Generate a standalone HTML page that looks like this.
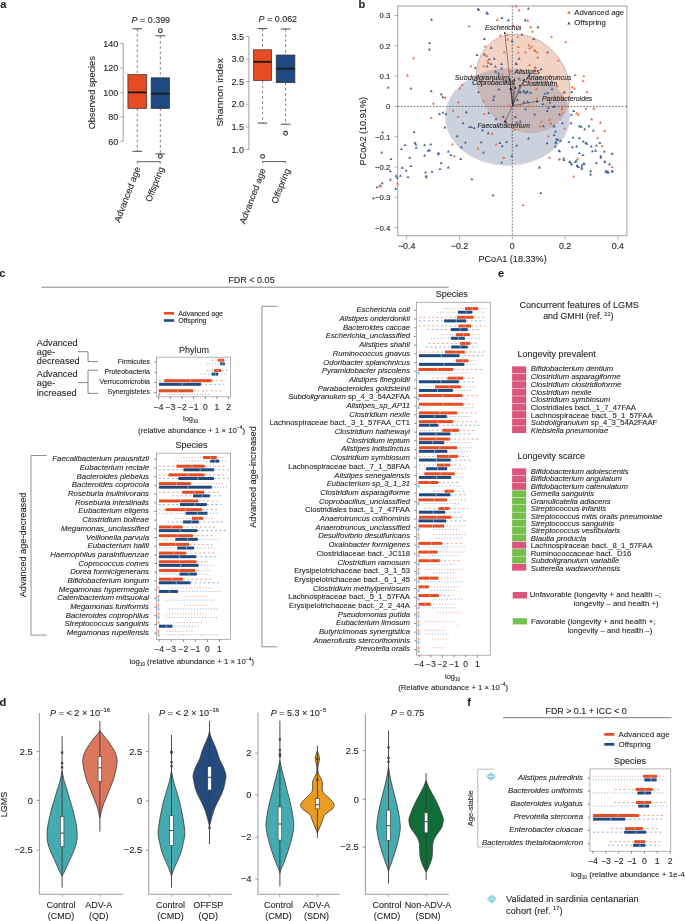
<!DOCTYPE html>
<html><head><meta charset="utf-8"><style>
html,body{margin:0;padding:0;background:#fff;width:685px;height:921px;overflow:hidden}
svg{display:block;will-change:transform}
text{font-family:"Liberation Sans",sans-serif;fill:#231f20;stroke:rgba(35,31,32,0.55);stroke-width:0.18px}
</style></head><body>
<svg width="685" height="921" viewBox="0 0 685 921">
<text x="0.3" y="8.3" style="font-size:11px;font-weight:bold">a</text>
<text x="358.6" y="7.7" style="font-size:11px;font-weight:bold">b</text>
<text x="-0.8" y="277.1" style="font-size:11px;font-weight:bold">c</text>
<text x="498" y="277.1" style="font-size:11px;font-weight:bold">e</text>
<text x="-0.4" y="706" style="font-size:11px;font-weight:bold">d</text>
<text x="467.3" y="706" style="font-size:11px;font-weight:bold">f</text>
<line x1="123.2" y1="43.5" x2="123.2" y2="141.3" stroke="#8a8a8a" stroke-width="0.8"/>
<line x1="120.4" y1="141.3" x2="123.2" y2="141.3" stroke="#8a8a8a" stroke-width="0.8"/>
<text x="118.2" y="144.5" text-anchor="end" style="font-size:9px">60</text>
<line x1="120.4" y1="116.85" x2="123.2" y2="116.85" stroke="#8a8a8a" stroke-width="0.8"/>
<text x="118.2" y="120.05" text-anchor="end" style="font-size:9px">80</text>
<line x1="120.4" y1="92.4" x2="123.2" y2="92.4" stroke="#8a8a8a" stroke-width="0.8"/>
<text x="118.2" y="95.6" text-anchor="end" style="font-size:9px">100</text>
<line x1="120.4" y1="67.95" x2="123.2" y2="67.95" stroke="#8a8a8a" stroke-width="0.8"/>
<text x="118.2" y="71.15" text-anchor="end" style="font-size:9px">120</text>
<line x1="120.4" y1="43.5" x2="123.2" y2="43.5" stroke="#8a8a8a" stroke-width="0.8"/>
<text x="118.2" y="46.7" text-anchor="end" style="font-size:9px">140</text>
<text x="95.5" y="92.8" text-anchor="middle" transform="rotate(-90 95.5 92.8)" textLength="73" lengthAdjust="spacingAndGlyphs" style="font-size:9.6px">Observed species</text>
<text x="131.6" y="23.4" textLength="38.5" lengthAdjust="spacingAndGlyphs" style="font-size:9px"><tspan style="font-style:italic">P</tspan> = 0.399</text>
<line x1="137.3" y1="28.8" x2="137.3" y2="74.5" stroke="#8a8a8a" stroke-width="1.1" stroke-dasharray="2.6,2.6"/>
<line x1="137.3" y1="108.5" x2="137.3" y2="151.3" stroke="#8a8a8a" stroke-width="1.1" stroke-dasharray="2.6,2.6"/>
<line x1="132.5" y1="28.8" x2="142.1" y2="28.8" stroke="#333" stroke-width="0.9"/>
<line x1="132.5" y1="151.3" x2="142.1" y2="151.3" stroke="#333" stroke-width="0.9"/>
<rect x="127.9" y="74.5" width="18.8" height="34" fill="#e64c24" stroke="#333" stroke-width="0.7"/>
<line x1="127.9" y1="92.4" x2="146.7" y2="92.4" stroke="#1a1a1a" stroke-width="1.8"/>
<line x1="160.35" y1="35.8" x2="160.35" y2="77.8" stroke="#8a8a8a" stroke-width="1.1" stroke-dasharray="2.6,2.6"/>
<line x1="160.35" y1="108.5" x2="160.35" y2="153.9" stroke="#8a8a8a" stroke-width="1.1" stroke-dasharray="2.6,2.6"/>
<line x1="155.55" y1="35.8" x2="165.15" y2="35.8" stroke="#333" stroke-width="0.9"/>
<line x1="155.55" y1="153.9" x2="165.15" y2="153.9" stroke="#333" stroke-width="0.9"/>
<rect x="151.1" y="77.8" width="18.5" height="30.7" fill="#1f4a80" stroke="#333" stroke-width="0.7"/>
<line x1="151.1" y1="93.7" x2="169.6" y2="93.7" stroke="#1a1a1a" stroke-width="1.8"/>
<circle cx="160.35" cy="30.7" r="1.9" fill="none" stroke="#333" stroke-width="1.1"/>
<circle cx="160.35" cy="156.4" r="1.9" fill="none" stroke="#333" stroke-width="1.1"/>
<path d="M137.3 163.3 L137.3 161.7 L160.3 161.7 L160.3 163.3" fill="none" stroke="#333" stroke-width="0.8"/>
<text x="140.6" y="168.3" text-anchor="end" transform="rotate(-69 140.6 168.3)" textLength="58.5" lengthAdjust="spacingAndGlyphs" style="font-size:9px">Advanced age</text>
<text x="164.2" y="168.4" text-anchor="end" transform="rotate(-69 164.2 168.4)" textLength="36.5" lengthAdjust="spacingAndGlyphs" style="font-size:9px">Offspring</text>
<line x1="248.9" y1="36.4" x2="248.9" y2="149.5" stroke="#8a8a8a" stroke-width="0.8"/>
<line x1="246.1" y1="149.5" x2="248.9" y2="149.5" stroke="#8a8a8a" stroke-width="0.8"/>
<text x="243.9" y="152.7" text-anchor="end" style="font-size:9px">1.0</text>
<line x1="246.1" y1="126.88" x2="248.9" y2="126.88" stroke="#8a8a8a" stroke-width="0.8"/>
<text x="243.9" y="130.08" text-anchor="end" style="font-size:9px">1.5</text>
<line x1="246.1" y1="104.26" x2="248.9" y2="104.26" stroke="#8a8a8a" stroke-width="0.8"/>
<text x="243.9" y="107.46" text-anchor="end" style="font-size:9px">2.0</text>
<line x1="246.1" y1="81.64" x2="248.9" y2="81.64" stroke="#8a8a8a" stroke-width="0.8"/>
<text x="243.9" y="84.84" text-anchor="end" style="font-size:9px">2.5</text>
<line x1="246.1" y1="59.02" x2="248.9" y2="59.02" stroke="#8a8a8a" stroke-width="0.8"/>
<text x="243.9" y="62.22" text-anchor="end" style="font-size:9px">3.0</text>
<line x1="246.1" y1="36.4" x2="248.9" y2="36.4" stroke="#8a8a8a" stroke-width="0.8"/>
<text x="243.9" y="39.6" text-anchor="end" style="font-size:9px">3.5</text>
<text x="222.8" y="92.5" text-anchor="middle" transform="rotate(-90 222.8 92.5)" textLength="68.6" lengthAdjust="spacingAndGlyphs" style="font-size:9.6px">Shannon index</text>
<text x="258.5" y="21.8" textLength="38.6" lengthAdjust="spacingAndGlyphs" style="font-size:9px"><tspan style="font-style:italic">P</tspan> = 0.062</text>
<line x1="262.55" y1="28.6" x2="262.55" y2="49.8" stroke="#8a8a8a" stroke-width="1.1" stroke-dasharray="2.6,2.6"/>
<line x1="262.55" y1="80.5" x2="262.55" y2="123.1" stroke="#8a8a8a" stroke-width="1.1" stroke-dasharray="2.6,2.6"/>
<line x1="257.75" y1="28.6" x2="267.35" y2="28.6" stroke="#333" stroke-width="0.9"/>
<line x1="257.75" y1="123.1" x2="267.35" y2="123.1" stroke="#333" stroke-width="0.9"/>
<rect x="253.5" y="49.8" width="18.1" height="30.7" fill="#e64c24" stroke="#333" stroke-width="0.7"/>
<line x1="253.5" y1="61.8" x2="271.6" y2="61.8" stroke="#1a1a1a" stroke-width="1.8"/>
<circle cx="262.55" cy="156.4" r="1.9" fill="none" stroke="#333" stroke-width="1.1"/>
<line x1="285.55" y1="29" x2="285.55" y2="55" stroke="#8a8a8a" stroke-width="1.1" stroke-dasharray="2.6,2.6"/>
<line x1="285.55" y1="82.7" x2="285.55" y2="124.2" stroke="#8a8a8a" stroke-width="1.1" stroke-dasharray="2.6,2.6"/>
<line x1="280.75" y1="29" x2="290.35" y2="29" stroke="#333" stroke-width="0.9"/>
<line x1="280.75" y1="124.2" x2="290.35" y2="124.2" stroke="#333" stroke-width="0.9"/>
<rect x="276.2" y="55" width="18.7" height="27.7" fill="#1f4a80" stroke="#333" stroke-width="0.7"/>
<line x1="276.2" y1="68.7" x2="294.9" y2="68.7" stroke="#1a1a1a" stroke-width="1.8"/>
<circle cx="285.55" cy="133.3" r="1.9" fill="none" stroke="#333" stroke-width="1.1"/>
<path d="M262.6 163.2 L262.6 161.6 L285.6 161.6 L285.6 163.2" fill="none" stroke="#333" stroke-width="0.8"/>
<text x="265.9" y="169.8" text-anchor="end" transform="rotate(-69 265.9 169.8)" textLength="58.5" lengthAdjust="spacingAndGlyphs" style="font-size:9px">Advanced age</text>
<text x="290.2" y="170.1" text-anchor="end" transform="rotate(-69 290.2 170.1)" textLength="36.5" lengthAdjust="spacingAndGlyphs" style="font-size:9px">Offspring</text>
<text x="228.2" y="283.3" textLength="46.5" lengthAdjust="spacingAndGlyphs" style="font-size:8.8px">FDR &lt; 0.05</text>
<line x1="41.7" y1="287.2" x2="448.7" y2="287.2" stroke="#666" stroke-width="0.8"/>
<rect x="163.9" y="312" width="10.2" height="2.6" fill="#e64c24"/>
<rect x="163.9" y="319.2" width="10.2" height="2.6" fill="#1f4a80"/>
<text x="178.2" y="315.5" style="font-size:7px">Advanced age</text>
<text x="178.2" y="322.6" style="font-size:7px">Offspring</text>
<text x="194" y="352.5" text-anchor="middle" style="font-size:9px">Phylum</text>
<rect x="156.4" y="357.2" width="74" height="39.6" fill="none" stroke="#a0a0a0" stroke-width="0.8"/>
<line x1="154.2" y1="362" x2="156.4" y2="362" stroke="#555" stroke-width="0.7"/>
<line x1="154.2" y1="372.3" x2="156.4" y2="372.3" stroke="#555" stroke-width="0.7"/>
<line x1="154.2" y1="382.5" x2="156.4" y2="382.5" stroke="#555" stroke-width="0.7"/>
<line x1="154.2" y1="392.6" x2="156.4" y2="392.6" stroke="#555" stroke-width="0.7"/>
<line x1="158.7" y1="396.8" x2="158.7" y2="399" stroke="#555" stroke-width="0.7"/>
<text x="158.7" y="410.3" text-anchor="middle" style="font-size:8.5px">−4</text>
<line x1="170.35" y1="396.8" x2="170.35" y2="399" stroke="#555" stroke-width="0.7"/>
<text x="170.35" y="410.3" text-anchor="middle" style="font-size:8.5px">−3</text>
<line x1="182" y1="396.8" x2="182" y2="399" stroke="#555" stroke-width="0.7"/>
<text x="182" y="410.3" text-anchor="middle" style="font-size:8.5px">−2</text>
<line x1="193.65" y1="396.8" x2="193.65" y2="399" stroke="#555" stroke-width="0.7"/>
<text x="193.65" y="410.3" text-anchor="middle" style="font-size:8.5px">−1</text>
<line x1="205.3" y1="396.8" x2="205.3" y2="399" stroke="#555" stroke-width="0.7"/>
<text x="205.3" y="410.3" text-anchor="middle" style="font-size:8.5px">0</text>
<line x1="216.95" y1="396.8" x2="216.95" y2="399" stroke="#555" stroke-width="0.7"/>
<text x="216.95" y="410.3" text-anchor="middle" style="font-size:8.5px">1</text>
<line x1="228.6" y1="396.8" x2="228.6" y2="399" stroke="#555" stroke-width="0.7"/>
<text x="228.6" y="410.3" text-anchor="middle" style="font-size:8.5px">2</text>
<line x1="211.4" y1="360.2" x2="218" y2="360.2" stroke="#f3a089" stroke-width="1" stroke-dasharray="2,2.4"/>
<line x1="224" y1="360.2" x2="227.5" y2="360.2" stroke="#f3a089" stroke-width="1" stroke-dasharray="2,2.4"/>
<rect x="218" y="358.7" width="6" height="3" fill="#e64c24"/>
<line x1="221.3" y1="358.7" x2="221.3" y2="361.7" stroke="rgba(255,200,180,0.6)" stroke-width="0.9"/>
<line x1="206.5" y1="363.8" x2="220.2" y2="363.8" stroke="#8db3db" stroke-width="1" stroke-dasharray="1,1.8"/>
<line x1="224.8" y1="363.8" x2="227" y2="363.8" stroke="#8db3db" stroke-width="1" stroke-dasharray="1,1.8"/>
<rect x="220.2" y="362.3" width="4.6" height="3" fill="#1f4a80"/>
<line x1="222.73" y1="362.3" x2="222.73" y2="365.3" stroke="rgba(170,205,240,0.75)" stroke-width="0.9"/>
<line x1="206.5" y1="370.5" x2="214.1" y2="370.5" stroke="#f3a089" stroke-width="1" stroke-dasharray="2,2.4"/>
<line x1="221.1" y1="370.5" x2="227.5" y2="370.5" stroke="#f3a089" stroke-width="1" stroke-dasharray="2,2.4"/>
<rect x="214.1" y="369" width="7" height="3" fill="#e64c24"/>
<line x1="217.95" y1="369" x2="217.95" y2="372" stroke="rgba(255,200,180,0.6)" stroke-width="0.9"/>
<line x1="199.6" y1="374.1" x2="211.7" y2="374.1" stroke="#8db3db" stroke-width="1" stroke-dasharray="1,1.8"/>
<line x1="218.2" y1="374.1" x2="226.9" y2="374.1" stroke="#8db3db" stroke-width="1" stroke-dasharray="1,1.8"/>
<rect x="211.7" y="372.6" width="6.5" height="3" fill="#1f4a80"/>
<line x1="215.27" y1="372.6" x2="215.27" y2="375.6" stroke="rgba(170,205,240,0.75)" stroke-width="0.9"/>
<line x1="159" y1="380.7" x2="164.3" y2="380.7" stroke="#f3a089" stroke-width="1" stroke-dasharray="2,2.4"/>
<line x1="211.8" y1="380.7" x2="225.9" y2="380.7" stroke="#f3a089" stroke-width="1" stroke-dasharray="2,2.4"/>
<rect x="164.3" y="379.2" width="47.5" height="3" fill="#e64c24"/>
<line x1="190.43" y1="379.2" x2="190.43" y2="382.2" stroke="rgba(255,200,180,0.6)" stroke-width="0.9"/>
<line x1="200.9" y1="384.3" x2="224.4" y2="384.3" stroke="#8db3db" stroke-width="1" stroke-dasharray="2,2.4"/>
<rect x="159" y="382.8" width="41.9" height="3" fill="#1f4a80"/>
<line x1="182.05" y1="382.8" x2="182.05" y2="385.8" stroke="rgba(170,205,240,0.75)" stroke-width="0.9"/>
<line x1="193" y1="390.8" x2="221.7" y2="390.8" stroke="#f3a089" stroke-width="1" stroke-dasharray="2,2.4"/>
<rect x="158.6" y="389.3" width="34.4" height="3" fill="#e64c24"/>
<line x1="177.52" y1="389.3" x2="177.52" y2="392.3" stroke="rgba(255,200,180,0.6)" stroke-width="0.9"/>
<rect x="158.4" y="392.9" width="1.8" height="3" fill="#8db3db"/>
<line x1="166.1" y1="394.4" x2="210.2" y2="394.4" stroke="#8db3db" stroke-width="1" stroke-dasharray="1,1.8"/>
<text x="150" y="363.72" text-anchor="end" style="font-size:7px">Firmicutes</text>
<text x="150" y="374.02" text-anchor="end" style="font-size:7px">Proteobacteria</text>
<text x="150" y="384.22" text-anchor="end" style="font-size:7px">Verrucomicrobia</text>
<text x="150" y="394.32" text-anchor="end" style="font-size:7px">Synergistetes</text>
<text x="183" y="421" style="font-size:7.5px">log<tspan style="font-size:4.5px" dy="2">10</tspan></text>
<text x="191.6" y="432.6" text-anchor="middle" style="font-size:7.75px">(relative abundance + 1 × 10<tspan style="font-size:5px" dy="-3.5">−4</tspan><tspan dy="3.5">)</tspan></text>
<text x="36.8" y="345.6" style="font-size:9.2px">Advanced</text>
<text x="36.8" y="354.9" style="font-size:9.2px">age-</text>
<text x="36.8" y="364.2" style="font-size:9.2px">decreased</text>
<text x="36.8" y="377.1" style="font-size:9.2px">Advanced</text>
<text x="36.8" y="386.4" style="font-size:9.2px">age-</text>
<text x="36.8" y="395.7" style="font-size:9.2px">increased</text>
<path d="M77.8 351.7 H88 V361.6 H98" fill="none" stroke="#555" stroke-width="0.7"/>
<path d="M98 370.2 H88 V393.4 H98 M77.8 382.6 H88" fill="none" stroke="#555" stroke-width="0.7"/>
<text x="191.6" y="448.2" text-anchor="middle" style="font-size:9px">Species</text>
<rect x="156.4" y="453.2" width="74.2" height="186.4" fill="none" stroke="#a0a0a0" stroke-width="0.8"/>
<line x1="154.2" y1="459.3" x2="156.4" y2="459.3" stroke="#555" stroke-width="0.7"/>
<line x1="154.2" y1="467.99" x2="156.4" y2="467.99" stroke="#555" stroke-width="0.7"/>
<line x1="154.2" y1="476.68" x2="156.4" y2="476.68" stroke="#555" stroke-width="0.7"/>
<line x1="154.2" y1="485.37" x2="156.4" y2="485.37" stroke="#555" stroke-width="0.7"/>
<line x1="154.2" y1="494.06" x2="156.4" y2="494.06" stroke="#555" stroke-width="0.7"/>
<line x1="154.2" y1="502.75" x2="156.4" y2="502.75" stroke="#555" stroke-width="0.7"/>
<line x1="154.2" y1="511.44" x2="156.4" y2="511.44" stroke="#555" stroke-width="0.7"/>
<line x1="154.2" y1="520.13" x2="156.4" y2="520.13" stroke="#555" stroke-width="0.7"/>
<line x1="154.2" y1="528.82" x2="156.4" y2="528.82" stroke="#555" stroke-width="0.7"/>
<line x1="154.2" y1="537.51" x2="156.4" y2="537.51" stroke="#555" stroke-width="0.7"/>
<line x1="154.2" y1="546.2" x2="156.4" y2="546.2" stroke="#555" stroke-width="0.7"/>
<line x1="154.2" y1="554.89" x2="156.4" y2="554.89" stroke="#555" stroke-width="0.7"/>
<line x1="154.2" y1="563.58" x2="156.4" y2="563.58" stroke="#555" stroke-width="0.7"/>
<line x1="154.2" y1="572.27" x2="156.4" y2="572.27" stroke="#555" stroke-width="0.7"/>
<line x1="154.2" y1="580.96" x2="156.4" y2="580.96" stroke="#555" stroke-width="0.7"/>
<line x1="154.2" y1="589.65" x2="156.4" y2="589.65" stroke="#555" stroke-width="0.7"/>
<line x1="154.2" y1="598.34" x2="156.4" y2="598.34" stroke="#555" stroke-width="0.7"/>
<line x1="154.2" y1="607.03" x2="156.4" y2="607.03" stroke="#555" stroke-width="0.7"/>
<line x1="154.2" y1="615.72" x2="156.4" y2="615.72" stroke="#555" stroke-width="0.7"/>
<line x1="154.2" y1="624.41" x2="156.4" y2="624.41" stroke="#555" stroke-width="0.7"/>
<line x1="154.2" y1="633.1" x2="156.4" y2="633.1" stroke="#555" stroke-width="0.7"/>
<line x1="159.16" y1="639.6" x2="159.16" y2="641.8" stroke="#555" stroke-width="0.7"/>
<text x="159.16" y="652.4" text-anchor="middle" style="font-size:8.5px">−4</text>
<line x1="171.22" y1="639.6" x2="171.22" y2="641.8" stroke="#555" stroke-width="0.7"/>
<text x="171.22" y="652.4" text-anchor="middle" style="font-size:8.5px">−3</text>
<line x1="183.28" y1="639.6" x2="183.28" y2="641.8" stroke="#555" stroke-width="0.7"/>
<text x="183.28" y="652.4" text-anchor="middle" style="font-size:8.5px">−2</text>
<line x1="195.34" y1="639.6" x2="195.34" y2="641.8" stroke="#555" stroke-width="0.7"/>
<text x="195.34" y="652.4" text-anchor="middle" style="font-size:8.5px">−1</text>
<line x1="207.4" y1="639.6" x2="207.4" y2="641.8" stroke="#555" stroke-width="0.7"/>
<text x="207.4" y="652.4" text-anchor="middle" style="font-size:8.5px">0</text>
<line x1="219.46" y1="639.6" x2="219.46" y2="641.8" stroke="#555" stroke-width="0.7"/>
<text x="219.46" y="652.4" text-anchor="middle" style="font-size:8.5px">1</text>
<line x1="180.4" y1="457.5" x2="203.1" y2="457.5" stroke="#f3a089" stroke-width="1" stroke-dasharray="1,1.8"/>
<line x1="216.7" y1="457.5" x2="224.4" y2="457.5" stroke="#f3a089" stroke-width="1" stroke-dasharray="1,1.8"/>
<rect x="203.1" y="456" width="13.6" height="3" fill="#e64c24"/>
<line x1="210.58" y1="456" x2="210.58" y2="459" stroke="rgba(255,200,180,0.6)" stroke-width="0.9"/>
<line x1="175.4" y1="461.1" x2="210.2" y2="461.1" stroke="#8db3db" stroke-width="1" stroke-dasharray="1,1.8"/>
<line x1="219.2" y1="461.1" x2="225.7" y2="461.1" stroke="#8db3db" stroke-width="1" stroke-dasharray="1,1.8"/>
<rect x="210.2" y="459.6" width="9" height="3" fill="#1f4a80"/>
<line x1="215.15" y1="459.6" x2="215.15" y2="462.6" stroke="rgba(170,205,240,0.75)" stroke-width="0.9"/>
<line x1="158.7" y1="466.19" x2="176.3" y2="466.19" stroke="#f3a089" stroke-width="1" stroke-dasharray="2,2.4"/>
<line x1="204.8" y1="466.19" x2="224.4" y2="466.19" stroke="#f3a089" stroke-width="1" stroke-dasharray="2,2.4"/>
<rect x="176.3" y="464.69" width="28.5" height="3" fill="#e64c24"/>
<line x1="191.98" y1="464.69" x2="191.98" y2="467.69" stroke="rgba(255,200,180,0.6)" stroke-width="0.9"/>
<line x1="158.7" y1="469.79" x2="183.5" y2="469.79" stroke="#8db3db" stroke-width="1" stroke-dasharray="2,2.4"/>
<line x1="213.9" y1="469.79" x2="228.8" y2="469.79" stroke="#8db3db" stroke-width="1" stroke-dasharray="2,2.4"/>
<rect x="183.5" y="468.29" width="30.4" height="3" fill="#1f4a80"/>
<line x1="200.22" y1="468.29" x2="200.22" y2="471.29" stroke="rgba(170,205,240,0.75)" stroke-width="0.9"/>
<line x1="158.7" y1="474.88" x2="168.4" y2="474.88" stroke="#f3a089" stroke-width="1" stroke-dasharray="2,2.4"/>
<line x1="204.6" y1="474.88" x2="227.5" y2="474.88" stroke="#f3a089" stroke-width="1" stroke-dasharray="2,2.4"/>
<rect x="168.4" y="473.38" width="36.2" height="3" fill="#e64c24"/>
<line x1="188.31" y1="473.38" x2="188.31" y2="476.38" stroke="rgba(255,200,180,0.6)" stroke-width="0.9"/>
<line x1="158.7" y1="478.48" x2="178.3" y2="478.48" stroke="#8db3db" stroke-width="1" stroke-dasharray="2,2.4"/>
<line x1="213.9" y1="478.48" x2="228.8" y2="478.48" stroke="#8db3db" stroke-width="1" stroke-dasharray="2,2.4"/>
<rect x="178.3" y="476.98" width="35.6" height="3" fill="#1f4a80"/>
<line x1="197.88" y1="476.98" x2="197.88" y2="479.98" stroke="rgba(170,205,240,0.75)" stroke-width="0.9"/>
<line x1="190.7" y1="483.57" x2="224.4" y2="483.57" stroke="#f3a089" stroke-width="1" stroke-dasharray="1,1.8"/>
<rect x="158.9" y="482.07" width="31.8" height="3" fill="#e64c24"/>
<line x1="176.39" y1="482.07" x2="176.39" y2="485.07" stroke="rgba(255,200,180,0.6)" stroke-width="0.9"/>
<line x1="211.8" y1="487.17" x2="228.2" y2="487.17" stroke="#8db3db" stroke-width="1" stroke-dasharray="1,1.8"/>
<rect x="158.9" y="485.67" width="52.9" height="3" fill="#1f4a80"/>
<line x1="188" y1="485.67" x2="188" y2="488.67" stroke="rgba(170,205,240,0.75)" stroke-width="0.9"/>
<line x1="158.7" y1="492.26" x2="182.3" y2="492.26" stroke="#f3a089" stroke-width="1" stroke-dasharray="2,2.4"/>
<line x1="204" y1="492.26" x2="219.5" y2="492.26" stroke="#f3a089" stroke-width="1" stroke-dasharray="2,2.4"/>
<rect x="182.3" y="490.76" width="21.7" height="3" fill="#e64c24"/>
<line x1="194.24" y1="490.76" x2="194.24" y2="493.76" stroke="rgba(255,200,180,0.6)" stroke-width="0.9"/>
<line x1="172" y1="495.86" x2="193" y2="495.86" stroke="#8db3db" stroke-width="1" stroke-dasharray="2,2.4"/>
<line x1="209.8" y1="495.86" x2="222.6" y2="495.86" stroke="#8db3db" stroke-width="1" stroke-dasharray="2,2.4"/>
<rect x="193" y="494.36" width="16.8" height="3" fill="#1f4a80"/>
<line x1="202.24" y1="494.36" x2="202.24" y2="497.36" stroke="rgba(170,205,240,0.75)" stroke-width="0.9"/>
<line x1="198.1" y1="500.95" x2="218.2" y2="500.95" stroke="#f3a089" stroke-width="1" stroke-dasharray="2,2.4"/>
<rect x="158.9" y="499.45" width="39.2" height="3" fill="#e64c24"/>
<line x1="180.46" y1="499.45" x2="180.46" y2="502.45" stroke="rgba(255,200,180,0.6)" stroke-width="0.9"/>
<line x1="158.7" y1="504.55" x2="180" y2="504.55" stroke="#8db3db" stroke-width="1" stroke-dasharray="2,2.4"/>
<line x1="206.8" y1="504.55" x2="221.3" y2="504.55" stroke="#8db3db" stroke-width="1" stroke-dasharray="2,2.4"/>
<rect x="180" y="503.05" width="26.8" height="3" fill="#1f4a80"/>
<line x1="194.74" y1="503.05" x2="194.74" y2="506.05" stroke="rgba(170,205,240,0.75)" stroke-width="0.9"/>
<line x1="158.7" y1="509.64" x2="165.5" y2="509.64" stroke="#f3a089" stroke-width="1" stroke-dasharray="2,2.4"/>
<line x1="201.9" y1="509.64" x2="218.2" y2="509.64" stroke="#f3a089" stroke-width="1" stroke-dasharray="2,2.4"/>
<rect x="165.5" y="508.14" width="36.4" height="3" fill="#e64c24"/>
<line x1="185.52" y1="508.14" x2="185.52" y2="511.14" stroke="rgba(255,200,180,0.6)" stroke-width="0.9"/>
<line x1="158.7" y1="513.24" x2="185.6" y2="513.24" stroke="#8db3db" stroke-width="1" stroke-dasharray="1,1.8"/>
<line x1="207.4" y1="513.24" x2="218.9" y2="513.24" stroke="#8db3db" stroke-width="1" stroke-dasharray="1,1.8"/>
<rect x="185.6" y="511.74" width="21.8" height="3" fill="#1f4a80"/>
<line x1="197.59" y1="511.74" x2="197.59" y2="514.74" stroke="rgba(170,205,240,0.75)" stroke-width="0.9"/>
<line x1="174.8" y1="518.33" x2="191.9" y2="518.33" stroke="#f3a089" stroke-width="1" stroke-dasharray="1,1.8"/>
<line x1="203.1" y1="518.33" x2="213.9" y2="518.33" stroke="#f3a089" stroke-width="1" stroke-dasharray="1,1.8"/>
<rect x="191.9" y="516.83" width="11.2" height="3" fill="#e64c24"/>
<line x1="198.06" y1="516.83" x2="198.06" y2="519.83" stroke="rgba(255,200,180,0.6)" stroke-width="0.9"/>
<line x1="167.4" y1="521.93" x2="183.1" y2="521.93" stroke="#8db3db" stroke-width="1" stroke-dasharray="2,2.4"/>
<line x1="198.8" y1="521.93" x2="222.6" y2="521.93" stroke="#8db3db" stroke-width="1" stroke-dasharray="2,2.4"/>
<rect x="183.1" y="520.43" width="15.7" height="3" fill="#1f4a80"/>
<line x1="191.74" y1="520.43" x2="191.74" y2="523.43" stroke="rgba(170,205,240,0.75)" stroke-width="0.9"/>
<line x1="182.3" y1="527.02" x2="217" y2="527.02" stroke="#f3a089" stroke-width="1" stroke-dasharray="2,2.4"/>
<rect x="158.9" y="525.52" width="23.4" height="3" fill="#e64c24"/>
<line x1="171.77" y1="525.52" x2="171.77" y2="528.52" stroke="rgba(255,200,180,0.6)" stroke-width="0.9"/>
<line x1="197.4" y1="530.62" x2="227.5" y2="530.62" stroke="#8db3db" stroke-width="1" stroke-dasharray="2,2.4"/>
<rect x="158.9" y="529.12" width="38.5" height="3" fill="#1f4a80"/>
<line x1="180.08" y1="529.12" x2="180.08" y2="532.12" stroke="rgba(170,205,240,0.75)" stroke-width="0.9"/>
<line x1="192.9" y1="535.71" x2="212.5" y2="535.71" stroke="#f3a089" stroke-width="1" stroke-dasharray="2,2.4"/>
<rect x="158.9" y="534.21" width="34" height="3" fill="#e64c24"/>
<line x1="177.6" y1="534.21" x2="177.6" y2="537.21" stroke="rgba(255,200,180,0.6)" stroke-width="0.9"/>
<line x1="158.7" y1="539.31" x2="175.3" y2="539.31" stroke="#8db3db" stroke-width="1" stroke-dasharray="1,1.8"/>
<line x1="197.8" y1="539.31" x2="219.2" y2="539.31" stroke="#8db3db" stroke-width="1" stroke-dasharray="1,1.8"/>
<rect x="175.3" y="537.81" width="22.5" height="3" fill="#1f4a80"/>
<line x1="187.68" y1="537.81" x2="187.68" y2="540.81" stroke="rgba(170,205,240,0.75)" stroke-width="0.9"/>
<line x1="189" y1="544.4" x2="212.5" y2="544.4" stroke="#f3a089" stroke-width="1" stroke-dasharray="2,2.4"/>
<rect x="158.9" y="542.9" width="30.1" height="3" fill="#e64c24"/>
<line x1="175.46" y1="542.9" x2="175.46" y2="545.9" stroke="rgba(255,200,180,0.6)" stroke-width="0.9"/>
<line x1="158.7" y1="548" x2="177.2" y2="548" stroke="#8db3db" stroke-width="1" stroke-dasharray="1,1.8"/>
<line x1="194.1" y1="548" x2="216.5" y2="548" stroke="#8db3db" stroke-width="1" stroke-dasharray="1,1.8"/>
<rect x="177.2" y="546.5" width="16.9" height="3" fill="#1f4a80"/>
<line x1="186.5" y1="546.5" x2="186.5" y2="549.5" stroke="rgba(170,205,240,0.75)" stroke-width="0.9"/>
<line x1="186" y1="553.09" x2="216.5" y2="553.09" stroke="#f3a089" stroke-width="1" stroke-dasharray="2,2.4"/>
<rect x="158.9" y="551.59" width="27.1" height="3" fill="#e64c24"/>
<line x1="173.81" y1="551.59" x2="173.81" y2="554.59" stroke="rgba(255,200,180,0.6)" stroke-width="0.9"/>
<line x1="196.2" y1="556.69" x2="218.6" y2="556.69" stroke="#8db3db" stroke-width="1" stroke-dasharray="2,2.4"/>
<rect x="158.9" y="555.19" width="37.3" height="3" fill="#1f4a80"/>
<line x1="179.41" y1="555.19" x2="179.41" y2="558.19" stroke="rgba(170,205,240,0.75)" stroke-width="0.9"/>
<line x1="196.4" y1="561.78" x2="208.4" y2="561.78" stroke="#f3a089" stroke-width="1" stroke-dasharray="2,2.4"/>
<rect x="158.9" y="560.28" width="37.5" height="3" fill="#e64c24"/>
<line x1="179.53" y1="560.28" x2="179.53" y2="563.28" stroke="rgba(255,200,180,0.6)" stroke-width="0.9"/>
<line x1="198.5" y1="565.38" x2="213.1" y2="565.38" stroke="#8db3db" stroke-width="1" stroke-dasharray="1,1.8"/>
<rect x="158.9" y="563.88" width="39.6" height="3" fill="#1f4a80"/>
<line x1="180.68" y1="563.88" x2="180.68" y2="566.88" stroke="rgba(170,205,240,0.75)" stroke-width="0.9"/>
<line x1="195.1" y1="570.47" x2="210.4" y2="570.47" stroke="#f3a089" stroke-width="1" stroke-dasharray="1,1.8"/>
<rect x="158.9" y="568.97" width="36.2" height="3" fill="#e64c24"/>
<line x1="178.81" y1="568.97" x2="178.81" y2="571.97" stroke="rgba(255,200,180,0.6)" stroke-width="0.9"/>
<line x1="158.7" y1="574.07" x2="179.5" y2="574.07" stroke="#8db3db" stroke-width="1" stroke-dasharray="1,1.8"/>
<line x1="196.8" y1="574.07" x2="207.7" y2="574.07" stroke="#8db3db" stroke-width="1" stroke-dasharray="1,1.8"/>
<rect x="179.5" y="572.57" width="17.3" height="3" fill="#1f4a80"/>
<line x1="189.02" y1="572.57" x2="189.02" y2="575.57" stroke="rgba(170,205,240,0.75)" stroke-width="0.9"/>
<line x1="182.9" y1="579.16" x2="212.5" y2="579.16" stroke="#f3a089" stroke-width="1" stroke-dasharray="2,2.4"/>
<rect x="158.9" y="577.66" width="24" height="3" fill="#e64c24"/>
<line x1="172.1" y1="577.66" x2="172.1" y2="580.66" stroke="rgba(255,200,180,0.6)" stroke-width="0.9"/>
<line x1="190.5" y1="582.76" x2="218.6" y2="582.76" stroke="#8db3db" stroke-width="1" stroke-dasharray="2,2.4"/>
<rect x="158.9" y="581.26" width="31.6" height="3" fill="#1f4a80"/>
<line x1="176.28" y1="581.26" x2="176.28" y2="584.26" stroke="rgba(170,205,240,0.75)" stroke-width="0.9"/>
<rect x="157.6" y="586.35" width="1.8" height="3" fill="#f3a089"/>
<line x1="171.7" y1="587.85" x2="211.1" y2="587.85" stroke="#f3a089" stroke-width="1" stroke-dasharray="1,1.8"/>
<line x1="177.8" y1="591.45" x2="222.6" y2="591.45" stroke="#8db3db" stroke-width="1" stroke-dasharray="1,1.8"/>
<rect x="158.9" y="589.95" width="18.9" height="3" fill="#1f4a80"/>
<line x1="169.3" y1="589.95" x2="169.3" y2="592.95" stroke="rgba(170,205,240,0.75)" stroke-width="0.9"/>
<rect x="157.6" y="595.04" width="1.8" height="3" fill="#f3a089"/>
<line x1="183.9" y1="596.54" x2="208.4" y2="596.54" stroke="#f3a089" stroke-width="1" stroke-dasharray="1,1.8"/>
<rect x="157.6" y="598.64" width="1.8" height="3" fill="#8db3db"/>
<line x1="164.9" y1="600.14" x2="214.5" y2="600.14" stroke="#8db3db" stroke-width="1" stroke-dasharray="1,1.8"/>
<rect x="157.6" y="603.73" width="1.8" height="3" fill="#f3a089"/>
<line x1="183.9" y1="605.23" x2="207.7" y2="605.23" stroke="#f3a089" stroke-width="1" stroke-dasharray="1,1.8"/>
<rect x="157.6" y="607.33" width="1.8" height="3" fill="#8db3db"/>
<line x1="169" y1="608.83" x2="217.9" y2="608.83" stroke="#8db3db" stroke-width="1" stroke-dasharray="1,1.8"/>
<rect x="157.6" y="612.42" width="1.8" height="3" fill="#f3a089"/>
<line x1="166" y1="613.92" x2="205.7" y2="613.92" stroke="#f3a089" stroke-width="1" stroke-dasharray="1,1.8"/>
<rect x="157.6" y="616.02" width="1.8" height="3" fill="#8db3db"/>
<line x1="165.6" y1="617.52" x2="217.9" y2="617.52" stroke="#8db3db" stroke-width="1" stroke-dasharray="1,1.8"/>
<rect x="157.6" y="621.11" width="1.8" height="3" fill="#f3a089"/>
<line x1="173" y1="622.61" x2="202.3" y2="622.61" stroke="#f3a089" stroke-width="1" stroke-dasharray="1,1.8"/>
<line x1="172.4" y1="626.21" x2="199.6" y2="626.21" stroke="#8db3db" stroke-width="1" stroke-dasharray="1,1.8"/>
<rect x="158.9" y="624.71" width="13.5" height="3" fill="#1f4a80"/>
<line x1="166.33" y1="624.71" x2="166.33" y2="627.71" stroke="rgba(170,205,240,0.75)" stroke-width="0.9"/>
<rect x="157.6" y="629.8" width="1.8" height="3" fill="#f3a089"/>
<line x1="166.3" y1="631.3" x2="193.4" y2="631.3" stroke="#f3a089" stroke-width="1" stroke-dasharray="1,1.8"/>
<rect x="157.6" y="633.4" width="1.8" height="3" fill="#8db3db"/>
<line x1="166.3" y1="634.9" x2="217.9" y2="634.9" stroke="#8db3db" stroke-width="1" stroke-dasharray="1,1.8"/>
<text x="149" y="461.31" text-anchor="end" style="font-size:7.8px;font-style:italic">Faecalibacterium prausnitzii</text>
<text x="149" y="470" text-anchor="end" style="font-size:7.8px;font-style:italic">Eubacterium rectale</text>
<text x="149" y="478.69" text-anchor="end" style="font-size:7.8px;font-style:italic">Bacteroides plebeius</text>
<text x="149" y="487.38" text-anchor="end" style="font-size:7.8px;font-style:italic">Bacteroides coprocola</text>
<text x="149" y="496.07" text-anchor="end" style="font-size:7.8px;font-style:italic">Roseburia inulinivorans</text>
<text x="149" y="504.76" text-anchor="end" style="font-size:7.8px;font-style:italic">Roseburia intestinalis</text>
<text x="149" y="513.45" text-anchor="end" style="font-size:7.8px;font-style:italic">Eubacterium eligens</text>
<text x="149" y="522.14" text-anchor="end" style="font-size:7.8px;font-style:italic">Clostridium bolteae</text>
<text x="149" y="530.83" text-anchor="end" style="font-size:7.8px;font-style:italic">Megamonas_unclassified</text>
<text x="149" y="539.52" text-anchor="end" style="font-size:7.8px;font-style:italic">Veillonella parvula</text>
<text x="149" y="548.21" text-anchor="end" style="font-size:7.8px;font-style:italic">Eubacterium hallii</text>
<text x="149" y="556.9" text-anchor="end" style="font-size:7.8px;font-style:italic">Haemophilus parainfluenzae</text>
<text x="149" y="565.59" text-anchor="end" style="font-size:7.8px;font-style:italic">Coprococcus comes</text>
<text x="149" y="574.28" text-anchor="end" style="font-size:7.8px;font-style:italic">Dorea formicigenerans</text>
<text x="149" y="582.97" text-anchor="end" style="font-size:7.8px;font-style:italic">Bifidobacterium longum</text>
<text x="149" y="591.66" text-anchor="end" style="font-size:7.8px;font-style:italic">Megamonas hypermegale</text>
<text x="149" y="600.35" text-anchor="end" style="font-size:7.8px;font-style:italic">Catenibacterium mitsuokai</text>
<text x="149" y="609.04" text-anchor="end" style="font-size:7.8px;font-style:italic">Megamonas funiformis</text>
<text x="149" y="617.73" text-anchor="end" style="font-size:7.8px;font-style:italic">Bacteroides coprophilus</text>
<text x="149" y="626.42" text-anchor="end" style="font-size:7.8px;font-style:italic">Streptococcus sanguinis</text>
<text x="149" y="635.11" text-anchor="end" style="font-size:7.8px;font-style:italic">Megamonas rupellensis</text>
<text x="191.8" y="664" text-anchor="middle" style="font-size:7.75px">log<tspan style="font-size:4.5px" dy="2">10</tspan><tspan dy="-2"> (relative abundance + 1 × 10</tspan><tspan style="font-size:5px" dy="-3.5">−4</tspan><tspan dy="3.5">)</tspan></text>
<path d="M46.7 455.5 H31 V635.1 H46.7" fill="none" stroke="#777" stroke-width="0.8"/>
<text x="25.6" y="545" text-anchor="middle" transform="rotate(-90 25.6 545)" style="font-size:9.2px">Advanced age-decreased</text>
<text x="451.8" y="297.3" text-anchor="middle" style="font-size:9px">Species</text>
<rect x="416.4" y="302.3" width="73.8" height="352.9" fill="none" stroke="#a0a0a0" stroke-width="0.8"/>
<line x1="414.2" y1="310.4" x2="416.4" y2="310.4" stroke="#555" stroke-width="0.7"/>
<line x1="414.2" y1="319.09" x2="416.4" y2="319.09" stroke="#555" stroke-width="0.7"/>
<line x1="414.2" y1="327.79" x2="416.4" y2="327.79" stroke="#555" stroke-width="0.7"/>
<line x1="414.2" y1="336.48" x2="416.4" y2="336.48" stroke="#555" stroke-width="0.7"/>
<line x1="414.2" y1="345.18" x2="416.4" y2="345.18" stroke="#555" stroke-width="0.7"/>
<line x1="414.2" y1="353.88" x2="416.4" y2="353.88" stroke="#555" stroke-width="0.7"/>
<line x1="414.2" y1="362.57" x2="416.4" y2="362.57" stroke="#555" stroke-width="0.7"/>
<line x1="414.2" y1="371.26" x2="416.4" y2="371.26" stroke="#555" stroke-width="0.7"/>
<line x1="414.2" y1="379.96" x2="416.4" y2="379.96" stroke="#555" stroke-width="0.7"/>
<line x1="414.2" y1="388.65" x2="416.4" y2="388.65" stroke="#555" stroke-width="0.7"/>
<line x1="414.2" y1="397.35" x2="416.4" y2="397.35" stroke="#555" stroke-width="0.7"/>
<line x1="414.2" y1="406.04" x2="416.4" y2="406.04" stroke="#555" stroke-width="0.7"/>
<line x1="414.2" y1="414.74" x2="416.4" y2="414.74" stroke="#555" stroke-width="0.7"/>
<line x1="414.2" y1="423.43" x2="416.4" y2="423.43" stroke="#555" stroke-width="0.7"/>
<line x1="414.2" y1="432.13" x2="416.4" y2="432.13" stroke="#555" stroke-width="0.7"/>
<line x1="414.2" y1="440.82" x2="416.4" y2="440.82" stroke="#555" stroke-width="0.7"/>
<line x1="414.2" y1="449.52" x2="416.4" y2="449.52" stroke="#555" stroke-width="0.7"/>
<line x1="414.2" y1="458.21" x2="416.4" y2="458.21" stroke="#555" stroke-width="0.7"/>
<line x1="414.2" y1="466.91" x2="416.4" y2="466.91" stroke="#555" stroke-width="0.7"/>
<line x1="414.2" y1="475.61" x2="416.4" y2="475.61" stroke="#555" stroke-width="0.7"/>
<line x1="414.2" y1="484.3" x2="416.4" y2="484.3" stroke="#555" stroke-width="0.7"/>
<line x1="414.2" y1="493" x2="416.4" y2="493" stroke="#555" stroke-width="0.7"/>
<line x1="414.2" y1="501.69" x2="416.4" y2="501.69" stroke="#555" stroke-width="0.7"/>
<line x1="414.2" y1="510.38" x2="416.4" y2="510.38" stroke="#555" stroke-width="0.7"/>
<line x1="414.2" y1="519.08" x2="416.4" y2="519.08" stroke="#555" stroke-width="0.7"/>
<line x1="414.2" y1="527.77" x2="416.4" y2="527.77" stroke="#555" stroke-width="0.7"/>
<line x1="414.2" y1="536.47" x2="416.4" y2="536.47" stroke="#555" stroke-width="0.7"/>
<line x1="414.2" y1="545.16" x2="416.4" y2="545.16" stroke="#555" stroke-width="0.7"/>
<line x1="414.2" y1="553.86" x2="416.4" y2="553.86" stroke="#555" stroke-width="0.7"/>
<line x1="414.2" y1="562.55" x2="416.4" y2="562.55" stroke="#555" stroke-width="0.7"/>
<line x1="414.2" y1="571.25" x2="416.4" y2="571.25" stroke="#555" stroke-width="0.7"/>
<line x1="414.2" y1="579.94" x2="416.4" y2="579.94" stroke="#555" stroke-width="0.7"/>
<line x1="414.2" y1="588.64" x2="416.4" y2="588.64" stroke="#555" stroke-width="0.7"/>
<line x1="414.2" y1="597.34" x2="416.4" y2="597.34" stroke="#555" stroke-width="0.7"/>
<line x1="414.2" y1="606.03" x2="416.4" y2="606.03" stroke="#555" stroke-width="0.7"/>
<line x1="414.2" y1="614.72" x2="416.4" y2="614.72" stroke="#555" stroke-width="0.7"/>
<line x1="414.2" y1="623.42" x2="416.4" y2="623.42" stroke="#555" stroke-width="0.7"/>
<line x1="414.2" y1="632.12" x2="416.4" y2="632.12" stroke="#555" stroke-width="0.7"/>
<line x1="414.2" y1="640.81" x2="416.4" y2="640.81" stroke="#555" stroke-width="0.7"/>
<line x1="414.2" y1="649.5" x2="416.4" y2="649.5" stroke="#555" stroke-width="0.7"/>
<line x1="419.14" y1="655.2" x2="419.14" y2="657.4" stroke="#555" stroke-width="0.7"/>
<text x="419.14" y="667.4" text-anchor="middle" style="font-size:8.5px">−4</text>
<line x1="430.78" y1="655.2" x2="430.78" y2="657.4" stroke="#555" stroke-width="0.7"/>
<text x="430.78" y="667.4" text-anchor="middle" style="font-size:8.5px">−3</text>
<line x1="442.42" y1="655.2" x2="442.42" y2="657.4" stroke="#555" stroke-width="0.7"/>
<text x="442.42" y="667.4" text-anchor="middle" style="font-size:8.5px">−2</text>
<line x1="454.06" y1="655.2" x2="454.06" y2="657.4" stroke="#555" stroke-width="0.7"/>
<text x="454.06" y="667.4" text-anchor="middle" style="font-size:8.5px">−1</text>
<line x1="465.7" y1="655.2" x2="465.7" y2="657.4" stroke="#555" stroke-width="0.7"/>
<text x="465.7" y="667.4" text-anchor="middle" style="font-size:8.5px">0</text>
<line x1="477.34" y1="655.2" x2="477.34" y2="657.4" stroke="#555" stroke-width="0.7"/>
<text x="477.34" y="667.4" text-anchor="middle" style="font-size:8.5px">1</text>
<line x1="443.5" y1="308.6" x2="465" y2="308.6" stroke="#f3a089" stroke-width="1" stroke-dasharray="1,1.8"/>
<line x1="478" y1="308.6" x2="486.9" y2="308.6" stroke="#f3a089" stroke-width="1" stroke-dasharray="1,1.8"/>
<rect x="465" y="307.1" width="13" height="3" fill="#e64c24"/>
<line x1="472.15" y1="307.1" x2="472.15" y2="310.1" stroke="rgba(255,200,180,0.6)" stroke-width="0.9"/>
<line x1="437.3" y1="312.2" x2="458.1" y2="312.2" stroke="#8db3db" stroke-width="1" stroke-dasharray="1,1.8"/>
<line x1="472.3" y1="312.2" x2="486.3" y2="312.2" stroke="#8db3db" stroke-width="1" stroke-dasharray="1,1.8"/>
<rect x="458.1" y="310.7" width="14.2" height="3" fill="#1f4a80"/>
<line x1="465.91" y1="310.7" x2="465.91" y2="313.7" stroke="rgba(170,205,240,0.75)" stroke-width="0.9"/>
<line x1="418.9" y1="317.29" x2="457.1" y2="317.29" stroke="#f3a089" stroke-width="1" stroke-dasharray="2,2.4"/>
<line x1="473.5" y1="317.29" x2="485" y2="317.29" stroke="#f3a089" stroke-width="1" stroke-dasharray="2,2.4"/>
<rect x="457.1" y="315.79" width="16.4" height="3" fill="#e64c24"/>
<line x1="466.12" y1="315.79" x2="466.12" y2="318.79" stroke="rgba(255,200,180,0.6)" stroke-width="0.9"/>
<line x1="418.9" y1="320.89" x2="444.1" y2="320.89" stroke="#8db3db" stroke-width="1" stroke-dasharray="2,2.4"/>
<line x1="466.1" y1="320.89" x2="484.4" y2="320.89" stroke="#8db3db" stroke-width="1" stroke-dasharray="2,2.4"/>
<rect x="444.1" y="319.39" width="22" height="3" fill="#1f4a80"/>
<line x1="456.2" y1="319.39" x2="456.2" y2="322.39" stroke="rgba(170,205,240,0.75)" stroke-width="0.9"/>
<line x1="418.9" y1="325.99" x2="458.4" y2="325.99" stroke="#f3a089" stroke-width="1" stroke-dasharray="2,2.4"/>
<line x1="471" y1="325.99" x2="485.7" y2="325.99" stroke="#f3a089" stroke-width="1" stroke-dasharray="2,2.4"/>
<rect x="458.4" y="324.49" width="12.6" height="3" fill="#e64c24"/>
<line x1="465.33" y1="324.49" x2="465.33" y2="327.49" stroke="rgba(255,200,180,0.6)" stroke-width="0.9"/>
<line x1="427.4" y1="329.59" x2="450.9" y2="329.59" stroke="#8db3db" stroke-width="1" stroke-dasharray="2,2.4"/>
<line x1="467.7" y1="329.59" x2="479.5" y2="329.59" stroke="#8db3db" stroke-width="1" stroke-dasharray="2,2.4"/>
<rect x="450.9" y="328.09" width="16.8" height="3" fill="#1f4a80"/>
<line x1="460.14" y1="328.09" x2="460.14" y2="331.09" stroke="rgba(170,205,240,0.75)" stroke-width="0.9"/>
<line x1="441" y1="334.68" x2="455.9" y2="334.68" stroke="#f3a089" stroke-width="1" stroke-dasharray="1,1.8"/>
<line x1="469.8" y1="334.68" x2="481.3" y2="334.68" stroke="#f3a089" stroke-width="1" stroke-dasharray="1,1.8"/>
<rect x="455.9" y="333.18" width="13.9" height="3" fill="#e64c24"/>
<line x1="463.55" y1="333.18" x2="463.55" y2="336.18" stroke="rgba(255,200,180,0.6)" stroke-width="0.9"/>
<line x1="431.1" y1="338.28" x2="450.9" y2="338.28" stroke="#8db3db" stroke-width="1" stroke-dasharray="1,1.8"/>
<line x1="464.8" y1="338.28" x2="480.1" y2="338.28" stroke="#8db3db" stroke-width="1" stroke-dasharray="1,1.8"/>
<rect x="450.9" y="336.78" width="13.9" height="3" fill="#1f4a80"/>
<line x1="458.55" y1="336.78" x2="458.55" y2="339.78" stroke="rgba(170,205,240,0.75)" stroke-width="0.9"/>
<line x1="428.6" y1="343.38" x2="460.2" y2="343.38" stroke="#f3a089" stroke-width="1" stroke-dasharray="2,2.4"/>
<line x1="470.2" y1="343.38" x2="478.2" y2="343.38" stroke="#f3a089" stroke-width="1" stroke-dasharray="2,2.4"/>
<rect x="460.2" y="341.88" width="10" height="3" fill="#e64c24"/>
<line x1="465.7" y1="341.88" x2="465.7" y2="344.88" stroke="rgba(255,200,180,0.6)" stroke-width="0.9"/>
<line x1="426.1" y1="346.98" x2="451.2" y2="346.98" stroke="#8db3db" stroke-width="1" stroke-dasharray="2,2.4"/>
<line x1="467.7" y1="346.98" x2="477.6" y2="346.98" stroke="#8db3db" stroke-width="1" stroke-dasharray="2,2.4"/>
<rect x="451.2" y="345.48" width="16.5" height="3" fill="#1f4a80"/>
<line x1="460.27" y1="345.48" x2="460.27" y2="348.48" stroke="rgba(170,205,240,0.75)" stroke-width="0.9"/>
<line x1="418.9" y1="352.07" x2="445" y2="352.07" stroke="#f3a089" stroke-width="1" stroke-dasharray="2,2.4"/>
<line x1="464.8" y1="352.07" x2="485.7" y2="352.07" stroke="#f3a089" stroke-width="1" stroke-dasharray="2,2.4"/>
<rect x="445" y="350.57" width="19.8" height="3" fill="#e64c24"/>
<line x1="455.89" y1="350.57" x2="455.89" y2="353.57" stroke="rgba(255,200,180,0.6)" stroke-width="0.9"/>
<line x1="459.4" y1="355.68" x2="485.7" y2="355.68" stroke="#8db3db" stroke-width="1" stroke-dasharray="2,2.4"/>
<rect x="418.9" y="354.18" width="40.5" height="3" fill="#1f4a80"/>
<line x1="441.17" y1="354.18" x2="441.17" y2="357.18" stroke="rgba(170,205,240,0.75)" stroke-width="0.9"/>
<line x1="452.8" y1="360.77" x2="455.9" y2="360.77" stroke="#f3a089" stroke-width="1" stroke-dasharray="1,1.8"/>
<line x1="468.6" y1="360.77" x2="477.6" y2="360.77" stroke="#f3a089" stroke-width="1" stroke-dasharray="1,1.8"/>
<rect x="455.9" y="359.27" width="12.7" height="3" fill="#e64c24"/>
<line x1="462.88" y1="359.27" x2="462.88" y2="362.27" stroke="rgba(255,200,180,0.6)" stroke-width="0.9"/>
<line x1="464.3" y1="364.37" x2="477.6" y2="364.37" stroke="#8db3db" stroke-width="1" stroke-dasharray="1,1.8"/>
<rect x="418.9" y="362.87" width="45.4" height="3" fill="#1f4a80"/>
<line x1="443.87" y1="362.87" x2="443.87" y2="365.87" stroke="rgba(170,205,240,0.75)" stroke-width="0.9"/>
<line x1="453.2" y1="369.46" x2="482.6" y2="369.46" stroke="#f3a089" stroke-width="1" stroke-dasharray="2,2.4"/>
<rect x="418.4" y="367.96" width="34.8" height="3" fill="#e64c24"/>
<line x1="437.54" y1="367.96" x2="437.54" y2="370.96" stroke="rgba(255,200,180,0.6)" stroke-width="0.9"/>
<rect x="417.6" y="371.56" width="1.8" height="3" fill="#8db3db"/>
<line x1="426.1" y1="373.06" x2="470.8" y2="373.06" stroke="#8db3db" stroke-width="1" stroke-dasharray="1,1.8"/>
<line x1="432.3" y1="378.16" x2="447.5" y2="378.16" stroke="#f3a089" stroke-width="1" stroke-dasharray="2,2.4"/>
<line x1="463.3" y1="378.16" x2="473.9" y2="378.16" stroke="#f3a089" stroke-width="1" stroke-dasharray="2,2.4"/>
<rect x="447.5" y="376.66" width="15.8" height="3" fill="#e64c24"/>
<line x1="456.19" y1="376.66" x2="456.19" y2="379.66" stroke="rgba(255,200,180,0.6)" stroke-width="0.9"/>
<line x1="458.8" y1="381.76" x2="474.5" y2="381.76" stroke="#8db3db" stroke-width="1" stroke-dasharray="2,2.4"/>
<rect x="418.9" y="380.26" width="39.9" height="3" fill="#1f4a80"/>
<line x1="440.85" y1="380.26" x2="440.85" y2="383.26" stroke="rgba(170,205,240,0.75)" stroke-width="0.9"/>
<line x1="418.9" y1="386.85" x2="435.1" y2="386.85" stroke="#f3a089" stroke-width="1" stroke-dasharray="1,1.8"/>
<line x1="460.9" y1="386.85" x2="477" y2="386.85" stroke="#f3a089" stroke-width="1" stroke-dasharray="1,1.8"/>
<rect x="435.1" y="385.35" width="25.8" height="3" fill="#e64c24"/>
<line x1="449.29" y1="385.35" x2="449.29" y2="388.35" stroke="rgba(255,200,180,0.6)" stroke-width="0.9"/>
<line x1="452.8" y1="390.45" x2="472" y2="390.45" stroke="#8db3db" stroke-width="1" stroke-dasharray="1,1.8"/>
<rect x="418.9" y="388.95" width="33.9" height="3" fill="#1f4a80"/>
<line x1="437.55" y1="388.95" x2="437.55" y2="391.95" stroke="rgba(170,205,240,0.75)" stroke-width="0.9"/>
<line x1="462.4" y1="395.55" x2="477.6" y2="395.55" stroke="#f3a089" stroke-width="1" stroke-dasharray="2,2.4"/>
<rect x="418.4" y="394.05" width="44" height="3" fill="#e64c24"/>
<line x1="442.6" y1="394.05" x2="442.6" y2="397.05" stroke="rgba(255,200,180,0.6)" stroke-width="0.9"/>
<rect x="417.6" y="397.65" width="1.8" height="3" fill="#8db3db"/>
<line x1="455.3" y1="399.15" x2="468.9" y2="399.15" stroke="#8db3db" stroke-width="1" stroke-dasharray="1,1.8"/>
<line x1="463.3" y1="404.24" x2="473.3" y2="404.24" stroke="#f3a089" stroke-width="1" stroke-dasharray="2,2.4"/>
<rect x="418.9" y="402.74" width="44.4" height="3" fill="#e64c24"/>
<line x1="443.32" y1="402.74" x2="443.32" y2="405.74" stroke="rgba(255,200,180,0.6)" stroke-width="0.9"/>
<rect x="417.6" y="406.34" width="1.8" height="3" fill="#8db3db"/>
<line x1="455.3" y1="407.84" x2="473.9" y2="407.84" stroke="#8db3db" stroke-width="1" stroke-dasharray="1,1.8"/>
<line x1="457.1" y1="412.94" x2="478.9" y2="412.94" stroke="#f3a089" stroke-width="1" stroke-dasharray="2,2.4"/>
<rect x="418.9" y="411.44" width="38.2" height="3" fill="#e64c24"/>
<line x1="439.91" y1="411.44" x2="439.91" y2="414.44" stroke="rgba(255,200,180,0.6)" stroke-width="0.9"/>
<line x1="446.8" y1="416.54" x2="470.8" y2="416.54" stroke="#8db3db" stroke-width="1" stroke-dasharray="1,1.8"/>
<rect x="418.9" y="415.04" width="27.9" height="3" fill="#1f4a80"/>
<line x1="434.25" y1="415.04" x2="434.25" y2="418.04" stroke="rgba(170,205,240,0.75)" stroke-width="0.9"/>
<line x1="453" y1="421.63" x2="478.9" y2="421.63" stroke="#f3a089" stroke-width="1" stroke-dasharray="2,2.4"/>
<rect x="418.9" y="420.13" width="34.1" height="3" fill="#e64c24"/>
<line x1="437.65" y1="420.13" x2="437.65" y2="423.13" stroke="rgba(255,200,180,0.6)" stroke-width="0.9"/>
<line x1="438.3" y1="425.23" x2="479.5" y2="425.23" stroke="#8db3db" stroke-width="1" stroke-dasharray="2,2.4"/>
<rect x="418.9" y="423.73" width="19.4" height="3" fill="#1f4a80"/>
<line x1="429.57" y1="423.73" x2="429.57" y2="426.73" stroke="rgba(170,205,240,0.75)" stroke-width="0.9"/>
<line x1="418.9" y1="430.33" x2="442.5" y2="430.33" stroke="#f3a089" stroke-width="1" stroke-dasharray="2,2.4"/>
<line x1="458.8" y1="430.33" x2="474.5" y2="430.33" stroke="#f3a089" stroke-width="1" stroke-dasharray="2,2.4"/>
<rect x="442.5" y="428.83" width="16.3" height="3" fill="#e64c24"/>
<line x1="451.47" y1="428.83" x2="451.47" y2="431.83" stroke="rgba(255,200,180,0.6)" stroke-width="0.9"/>
<line x1="450.3" y1="433.93" x2="471.4" y2="433.93" stroke="#8db3db" stroke-width="1" stroke-dasharray="2,2.4"/>
<rect x="418.9" y="432.43" width="31.4" height="3" fill="#1f4a80"/>
<line x1="436.17" y1="432.43" x2="436.17" y2="435.43" stroke="rgba(170,205,240,0.75)" stroke-width="0.9"/>
<line x1="449.7" y1="439.02" x2="478.9" y2="439.02" stroke="#f3a089" stroke-width="1" stroke-dasharray="2,2.4"/>
<rect x="418.9" y="437.52" width="30.8" height="3" fill="#e64c24"/>
<line x1="435.84" y1="437.52" x2="435.84" y2="440.52" stroke="rgba(255,200,180,0.6)" stroke-width="0.9"/>
<line x1="444.1" y1="442.62" x2="470.8" y2="442.62" stroke="#8db3db" stroke-width="1" stroke-dasharray="1,1.8"/>
<rect x="418.9" y="441.12" width="25.2" height="3" fill="#1f4a80"/>
<line x1="432.76" y1="441.12" x2="432.76" y2="444.12" stroke="rgba(170,205,240,0.75)" stroke-width="0.9"/>
<line x1="456.9" y1="447.72" x2="472.7" y2="447.72" stroke="#f3a089" stroke-width="1" stroke-dasharray="1,1.8"/>
<rect x="418.9" y="446.22" width="38" height="3" fill="#e64c24"/>
<line x1="439.8" y1="446.22" x2="439.8" y2="449.22" stroke="rgba(255,200,180,0.6)" stroke-width="0.9"/>
<line x1="447.2" y1="451.32" x2="472.7" y2="451.32" stroke="#8db3db" stroke-width="1" stroke-dasharray="1,1.8"/>
<rect x="418.9" y="449.82" width="28.3" height="3" fill="#1f4a80"/>
<line x1="434.46" y1="449.82" x2="434.46" y2="452.82" stroke="rgba(170,205,240,0.75)" stroke-width="0.9"/>
<line x1="418.9" y1="456.41" x2="437" y2="456.41" stroke="#f3a089" stroke-width="1" stroke-dasharray="2,2.4"/>
<line x1="458" y1="456.41" x2="468.3" y2="456.41" stroke="#f3a089" stroke-width="1" stroke-dasharray="2,2.4"/>
<rect x="437" y="454.91" width="21" height="3" fill="#e64c24"/>
<line x1="448.55" y1="454.91" x2="448.55" y2="457.91" stroke="rgba(255,200,180,0.6)" stroke-width="0.9"/>
<line x1="450.7" y1="460.01" x2="471.4" y2="460.01" stroke="#8db3db" stroke-width="1" stroke-dasharray="2,2.4"/>
<rect x="418.9" y="458.51" width="31.8" height="3" fill="#1f4a80"/>
<line x1="436.39" y1="458.51" x2="436.39" y2="461.51" stroke="rgba(170,205,240,0.75)" stroke-width="0.9"/>
<line x1="418.9" y1="465.11" x2="437" y2="465.11" stroke="#f3a089" stroke-width="1" stroke-dasharray="2,2.4"/>
<line x1="450" y1="465.11" x2="463.3" y2="465.11" stroke="#f3a089" stroke-width="1" stroke-dasharray="2,2.4"/>
<rect x="437" y="463.61" width="13" height="3" fill="#e64c24"/>
<line x1="444.15" y1="463.61" x2="444.15" y2="466.61" stroke="rgba(255,200,180,0.6)" stroke-width="0.9"/>
<line x1="418.9" y1="468.71" x2="426.1" y2="468.71" stroke="#8db3db" stroke-width="1" stroke-dasharray="1,1.8"/>
<line x1="447" y1="468.71" x2="466.5" y2="468.71" stroke="#8db3db" stroke-width="1" stroke-dasharray="1,1.8"/>
<rect x="426.1" y="467.21" width="20.9" height="3" fill="#1f4a80"/>
<line x1="437.6" y1="467.21" x2="437.6" y2="470.21" stroke="rgba(170,205,240,0.75)" stroke-width="0.9"/>
<line x1="418.9" y1="473.81" x2="424.3" y2="473.81" stroke="#f3a089" stroke-width="1" stroke-dasharray="1,1.8"/>
<line x1="454.7" y1="473.81" x2="463.3" y2="473.81" stroke="#f3a089" stroke-width="1" stroke-dasharray="1,1.8"/>
<rect x="424.3" y="472.31" width="30.4" height="3" fill="#e64c24"/>
<line x1="441.02" y1="472.31" x2="441.02" y2="475.31" stroke="rgba(255,200,180,0.6)" stroke-width="0.9"/>
<line x1="450.9" y1="477.41" x2="465.2" y2="477.41" stroke="#8db3db" stroke-width="1" stroke-dasharray="1,1.8"/>
<rect x="418.9" y="475.91" width="32" height="3" fill="#1f4a80"/>
<line x1="436.5" y1="475.91" x2="436.5" y2="478.91" stroke="rgba(170,205,240,0.75)" stroke-width="0.9"/>
<line x1="438.3" y1="482.5" x2="460.2" y2="482.5" stroke="#f3a089" stroke-width="1" stroke-dasharray="2,2.4"/>
<rect x="418.4" y="481" width="19.9" height="3" fill="#e64c24"/>
<line x1="429.34" y1="481" x2="429.34" y2="484" stroke="rgba(255,200,180,0.6)" stroke-width="0.9"/>
<rect x="417.6" y="484.6" width="1.8" height="3" fill="#8db3db"/>
<line x1="430.5" y1="486.1" x2="460.9" y2="486.1" stroke="#8db3db" stroke-width="1" stroke-dasharray="1,1.8"/>
<line x1="433" y1="491.19" x2="444.5" y2="491.19" stroke="#f3a089" stroke-width="1" stroke-dasharray="2,2.4"/>
<line x1="453.7" y1="491.19" x2="464.6" y2="491.19" stroke="#f3a089" stroke-width="1" stroke-dasharray="2,2.4"/>
<rect x="444.5" y="489.69" width="9.2" height="3" fill="#e64c24"/>
<line x1="449.56" y1="489.69" x2="449.56" y2="492.69" stroke="rgba(255,200,180,0.6)" stroke-width="0.9"/>
<line x1="450.3" y1="494.8" x2="467.7" y2="494.8" stroke="#8db3db" stroke-width="1" stroke-dasharray="2,2.4"/>
<rect x="418.9" y="493.3" width="31.4" height="3" fill="#1f4a80"/>
<line x1="436.17" y1="493.3" x2="436.17" y2="496.3" stroke="rgba(170,205,240,0.75)" stroke-width="0.9"/>
<line x1="447" y1="499.89" x2="465.2" y2="499.89" stroke="#f3a089" stroke-width="1" stroke-dasharray="1,1.8"/>
<rect x="418.4" y="498.39" width="28.6" height="3" fill="#e64c24"/>
<line x1="434.13" y1="498.39" x2="434.13" y2="501.39" stroke="rgba(255,200,180,0.6)" stroke-width="0.9"/>
<rect x="417.6" y="501.99" width="1.8" height="3" fill="#8db3db"/>
<line x1="424.3" y1="503.49" x2="459.6" y2="503.49" stroke="#8db3db" stroke-width="1" stroke-dasharray="1,1.8"/>
<line x1="424.3" y1="508.58" x2="438.5" y2="508.58" stroke="#f3a089" stroke-width="1" stroke-dasharray="2,2.4"/>
<line x1="449.5" y1="508.58" x2="468.3" y2="508.58" stroke="#f3a089" stroke-width="1" stroke-dasharray="2,2.4"/>
<rect x="438.5" y="507.08" width="11" height="3" fill="#e64c24"/>
<line x1="444.55" y1="507.08" x2="444.55" y2="510.08" stroke="rgba(255,200,180,0.6)" stroke-width="0.9"/>
<line x1="445" y1="512.18" x2="463.3" y2="512.18" stroke="#8db3db" stroke-width="1" stroke-dasharray="2,2.4"/>
<rect x="418.9" y="510.68" width="26.1" height="3" fill="#1f4a80"/>
<line x1="433.25" y1="510.68" x2="433.25" y2="513.68" stroke="rgba(170,205,240,0.75)" stroke-width="0.9"/>
<line x1="451" y1="517.28" x2="463.3" y2="517.28" stroke="#f3a089" stroke-width="1" stroke-dasharray="2,2.4"/>
<rect x="418.9" y="515.78" width="32.1" height="3" fill="#e64c24"/>
<line x1="436.56" y1="515.78" x2="436.56" y2="518.78" stroke="rgba(255,200,180,0.6)" stroke-width="0.9"/>
<line x1="446" y1="520.88" x2="467.7" y2="520.88" stroke="#8db3db" stroke-width="1" stroke-dasharray="2,2.4"/>
<rect x="418.4" y="519.38" width="27.6" height="3" fill="#1f4a80"/>
<line x1="433.58" y1="519.38" x2="433.58" y2="522.38" stroke="rgba(170,205,240,0.75)" stroke-width="0.9"/>
<line x1="444.1" y1="525.98" x2="464.6" y2="525.98" stroke="#f3a089" stroke-width="1" stroke-dasharray="1,1.8"/>
<rect x="418.4" y="524.48" width="25.7" height="3" fill="#e64c24"/>
<line x1="432.54" y1="524.48" x2="432.54" y2="527.48" stroke="rgba(255,200,180,0.6)" stroke-width="0.9"/>
<rect x="417.6" y="528.07" width="1.8" height="3" fill="#8db3db"/>
<line x1="433.6" y1="529.57" x2="457.8" y2="529.57" stroke="#8db3db" stroke-width="1" stroke-dasharray="1,1.8"/>
<rect x="417.6" y="533.17" width="1.8" height="3" fill="#f3a089"/>
<line x1="433.6" y1="534.67" x2="466.5" y2="534.67" stroke="#f3a089" stroke-width="1" stroke-dasharray="1,1.8"/>
<rect x="417.6" y="536.77" width="1.8" height="3" fill="#8db3db"/>
<line x1="436" y1="538.27" x2="464" y2="538.27" stroke="#8db3db" stroke-width="1" stroke-dasharray="1,1.8"/>
<line x1="442" y1="543.37" x2="464" y2="543.37" stroke="#f3a089" stroke-width="1" stroke-dasharray="2,2.4"/>
<rect x="418.4" y="541.87" width="23.6" height="3" fill="#e64c24"/>
<line x1="431.38" y1="541.87" x2="431.38" y2="544.87" stroke="rgba(255,200,180,0.6)" stroke-width="0.9"/>
<rect x="417.6" y="545.46" width="1.8" height="3" fill="#8db3db"/>
<line x1="427.4" y1="546.96" x2="464.6" y2="546.96" stroke="#8db3db" stroke-width="1" stroke-dasharray="1,1.8"/>
<line x1="437.5" y1="552.06" x2="465.8" y2="552.06" stroke="#f3a089" stroke-width="1" stroke-dasharray="1,1.8"/>
<rect x="418.4" y="550.56" width="19.1" height="3" fill="#e64c24"/>
<line x1="428.9" y1="550.56" x2="428.9" y2="553.56" stroke="rgba(255,200,180,0.6)" stroke-width="0.9"/>
<rect x="417.6" y="554.16" width="1.8" height="3" fill="#8db3db"/>
<line x1="429.2" y1="555.66" x2="460.2" y2="555.66" stroke="#8db3db" stroke-width="1" stroke-dasharray="1,1.8"/>
<line x1="439.8" y1="560.75" x2="461.5" y2="560.75" stroke="#f3a089" stroke-width="1" stroke-dasharray="2,2.4"/>
<rect x="418.4" y="559.25" width="21.4" height="3" fill="#e64c24"/>
<line x1="430.17" y1="559.25" x2="430.17" y2="562.25" stroke="rgba(255,200,180,0.6)" stroke-width="0.9"/>
<rect x="417.6" y="562.85" width="1.8" height="3" fill="#8db3db"/>
<line x1="427.4" y1="564.35" x2="455.9" y2="564.35" stroke="#8db3db" stroke-width="1" stroke-dasharray="1,1.8"/>
<rect x="417.6" y="567.95" width="1.8" height="3" fill="#f3a089"/>
<line x1="424.9" y1="569.45" x2="463.3" y2="569.45" stroke="#f3a089" stroke-width="1" stroke-dasharray="1,1.8"/>
<rect x="417.6" y="571.55" width="1.8" height="3" fill="#8db3db"/>
<line x1="432.9" y1="573.05" x2="455.9" y2="573.05" stroke="#8db3db" stroke-width="1" stroke-dasharray="1,1.8"/>
<line x1="438.5" y1="578.14" x2="457.8" y2="578.14" stroke="#f3a089" stroke-width="1" stroke-dasharray="1,1.8"/>
<rect x="418.4" y="576.64" width="20.1" height="3" fill="#e64c24"/>
<line x1="429.45" y1="576.64" x2="429.45" y2="579.64" stroke="rgba(255,200,180,0.6)" stroke-width="0.9"/>
<rect x="417.6" y="580.24" width="1.8" height="3" fill="#8db3db"/>
<line x1="424.9" y1="581.74" x2="463.9" y2="581.74" stroke="#8db3db" stroke-width="1" stroke-dasharray="1,1.8"/>
<line x1="428.9" y1="586.84" x2="459.6" y2="586.84" stroke="#f3a089" stroke-width="1" stroke-dasharray="1,1.8"/>
<rect x="418.4" y="585.34" width="10.5" height="3" fill="#e64c24"/>
<line x1="424.17" y1="585.34" x2="424.17" y2="588.34" stroke="rgba(255,200,180,0.6)" stroke-width="0.9"/>
<rect x="417.6" y="588.94" width="1.8" height="3" fill="#8db3db"/>
<line x1="431.1" y1="590.44" x2="454" y2="590.44" stroke="#8db3db" stroke-width="1" stroke-dasharray="1,1.8"/>
<line x1="438.8" y1="595.54" x2="452.8" y2="595.54" stroke="#f3a089" stroke-width="1" stroke-dasharray="2,2.4"/>
<rect x="418.4" y="594.04" width="20.4" height="3" fill="#e64c24"/>
<line x1="429.62" y1="594.04" x2="429.62" y2="597.04" stroke="rgba(255,200,180,0.6)" stroke-width="0.9"/>
<rect x="417.6" y="597.63" width="1.8" height="3" fill="#8db3db"/>
<line x1="433" y1="599.13" x2="462.7" y2="599.13" stroke="#8db3db" stroke-width="1" stroke-dasharray="1,1.8"/>
<line x1="430.8" y1="604.23" x2="455.9" y2="604.23" stroke="#f3a089" stroke-width="1" stroke-dasharray="1,1.8"/>
<rect x="418.4" y="602.73" width="12.4" height="3" fill="#e64c24"/>
<line x1="425.22" y1="602.73" x2="425.22" y2="605.73" stroke="rgba(255,200,180,0.6)" stroke-width="0.9"/>
<rect x="417.6" y="606.33" width="1.8" height="3" fill="#8db3db"/>
<line x1="429.2" y1="607.83" x2="455.9" y2="607.83" stroke="#8db3db" stroke-width="1" stroke-dasharray="1,1.8"/>
<rect x="417.6" y="611.42" width="1.8" height="3" fill="#f3a089"/>
<line x1="437.3" y1="612.92" x2="460.9" y2="612.92" stroke="#f3a089" stroke-width="1" stroke-dasharray="1,1.8"/>
<rect x="417.6" y="615.02" width="1.8" height="3" fill="#8db3db"/>
<rect x="417.6" y="620.12" width="1.8" height="3" fill="#f3a089"/>
<line x1="424.9" y1="621.62" x2="454.7" y2="621.62" stroke="#f3a089" stroke-width="1" stroke-dasharray="1,1.8"/>
<rect x="417.6" y="623.72" width="1.8" height="3" fill="#8db3db"/>
<line x1="457.5" y1="625.22" x2="459" y2="625.22" stroke="#8db3db" stroke-width="1" stroke-dasharray="1,1.8"/>
<rect x="417.6" y="628.82" width="1.8" height="3" fill="#f3a089"/>
<line x1="424.3" y1="630.32" x2="446.6" y2="630.32" stroke="#f3a089" stroke-width="1" stroke-dasharray="1,1.8"/>
<rect x="417.6" y="632.41" width="1.8" height="3" fill="#8db3db"/>
<line x1="426.1" y1="633.91" x2="449" y2="633.91" stroke="#8db3db" stroke-width="1" stroke-dasharray="1,1.8"/>
<rect x="417.6" y="637.51" width="1.8" height="3" fill="#f3a089"/>
<line x1="432.3" y1="639.01" x2="447.8" y2="639.01" stroke="#f3a089" stroke-width="1" stroke-dasharray="1,1.8"/>
<rect x="417.6" y="641.11" width="1.8" height="3" fill="#8db3db"/>
<rect x="417.6" y="646.21" width="1.8" height="3" fill="#f3a089"/>
<line x1="432.9" y1="647.71" x2="444.7" y2="647.71" stroke="#f3a089" stroke-width="1" stroke-dasharray="1,1.8"/>
<rect x="417.6" y="649.8" width="1.8" height="3" fill="#8db3db"/>
<text x="410" y="312.37" text-anchor="end" style="font-size:7.7px;font-style:italic">Escherichia coli</text>
<text x="410" y="321.07" text-anchor="end" style="font-size:7.7px;font-style:italic">Alistipes onderdonkii</text>
<text x="410" y="329.76" text-anchor="end" style="font-size:7.7px;font-style:italic">Bacteroides caccae</text>
<text x="410" y="338.46" text-anchor="end" style="font-size:7.7px;font-style:italic">Escherichia_unclassified</text>
<text x="410" y="347.15" text-anchor="end" style="font-size:7.7px;font-style:italic">Alistipes shahii</text>
<text x="410" y="355.85" text-anchor="end" style="font-size:7.7px;font-style:italic">Ruminococcus gnavus</text>
<text x="410" y="364.54" text-anchor="end" style="font-size:7.7px;font-style:italic">Odoribacter splanchnicus</text>
<text x="410" y="373.24" text-anchor="end" style="font-size:7.7px;font-style:italic">Pyramidobacter piscolens</text>
<text x="410" y="381.93" text-anchor="end" style="font-size:7.7px;font-style:italic">Alistipes finegoldii</text>
<text x="410" y="390.63" text-anchor="end" style="font-size:7.7px;font-style:italic">Parabacteroides goldsteinii</text>
<text x="410" y="399.32" text-anchor="end" style="font-size:7.7px"><tspan style="font-style:italic">Subdoligranulum</tspan> sp_4_3_54A2FAA</text>
<text x="410" y="408.02" text-anchor="end" style="font-size:7.7px;font-style:italic">Alistipes_sp_AP11</text>
<text x="410" y="416.71" text-anchor="end" style="font-size:7.7px;font-style:italic">Clostridium nexile</text>
<text x="410" y="425.41" text-anchor="end" style="font-size:7.7px">Lachnospiraceae bact._3_1_57FAA_CT1</text>
<text x="410" y="434.1" text-anchor="end" style="font-size:7.7px;font-style:italic">Clostridium hathewayi</text>
<text x="410" y="442.8" text-anchor="end" style="font-size:7.7px;font-style:italic">Clostridium leptum</text>
<text x="410" y="451.49" text-anchor="end" style="font-size:7.7px;font-style:italic">Alistipes indistinctus</text>
<text x="410" y="460.19" text-anchor="end" style="font-size:7.7px;font-style:italic">Clostridium symbiosum</text>
<text x="410" y="468.88" text-anchor="end" style="font-size:7.7px">Lachnospiraceae bact._7_1_58FAA</text>
<text x="410" y="477.58" text-anchor="end" style="font-size:7.7px;font-style:italic">Alistipes senegalensis</text>
<text x="410" y="486.27" text-anchor="end" style="font-size:7.7px;font-style:italic">Eubacterium sp_3_1_31</text>
<text x="410" y="494.97" text-anchor="end" style="font-size:7.7px;font-style:italic">Clostridium asparagiforme</text>
<text x="410" y="503.66" text-anchor="end" style="font-size:7.7px;font-style:italic">Coprobacillus_unclassified</text>
<text x="410" y="512.36" text-anchor="end" style="font-size:7.7px">Clostridiales bact._1_7_47FAA</text>
<text x="410" y="521.05" text-anchor="end" style="font-size:7.7px;font-style:italic">Anaerotruncus colihominis</text>
<text x="410" y="529.75" text-anchor="end" style="font-size:7.7px;font-style:italic">Anaerotruncus_unclassified</text>
<text x="410" y="538.44" text-anchor="end" style="font-size:7.7px;font-style:italic">Desulfovibrio desulfuricans</text>
<text x="410" y="547.14" text-anchor="end" style="font-size:7.7px;font-style:italic">Oxalobacter formigenes</text>
<text x="410" y="555.83" text-anchor="end" style="font-size:7.7px">Clostridiaceae bact._JC118</text>
<text x="410" y="564.53" text-anchor="end" style="font-size:7.7px;font-style:italic">Clostridium ramosum</text>
<text x="410" y="573.22" text-anchor="end" style="font-size:7.7px">Erysipelotrichaceae bact._3_1_53</text>
<text x="410" y="581.92" text-anchor="end" style="font-size:7.7px">Erysipelotrichaceae bact._6_1_45</text>
<text x="410" y="590.61" text-anchor="end" style="font-size:7.7px;font-style:italic">Clostridium methylpentosum</text>
<text x="410" y="599.31" text-anchor="end" style="font-size:7.7px">Lachnospiraceae bact._5_1_57FAA</text>
<text x="410" y="608" text-anchor="end" style="font-size:7.7px">Erysipelotrichaceae bact._2_2_44A</text>
<text x="410" y="616.7" text-anchor="end" style="font-size:7.7px;font-style:italic">Pseudomonas putida</text>
<text x="410" y="625.39" text-anchor="end" style="font-size:7.7px;font-style:italic">Eubacterium limosum</text>
<text x="410" y="634.09" text-anchor="end" style="font-size:7.7px;font-style:italic">Butyricimonas synergistica</text>
<text x="410" y="642.78" text-anchor="end" style="font-size:7.7px;font-style:italic">Anaerofustis stercorihominis</text>
<text x="410" y="651.48" text-anchor="end" style="font-size:7.7px;font-style:italic">Prevotella oralis</text>
<text x="445" y="679" style="font-size:7.5px">log<tspan style="font-size:4.5px" dy="2">10</tspan></text>
<text x="398.2" y="689.9" style="font-size:7.75px">(Relative abundance + 1 × 10<tspan style="font-size:5px" dy="-3.5">−4</tspan><tspan dy="3.5">)</tspan></text>
<path d="M277.2 306.3 H261.9 V646.8 H277.2" fill="none" stroke="#777" stroke-width="0.8"/>
<text x="256.2" y="477" text-anchor="middle" transform="rotate(-90 256.2 477)" style="font-size:9.2px">Advanced age-increased</text>
<line x1="39.4" y1="713" x2="39.4" y2="894.3" stroke="#808080" stroke-width="0.8"/>
<line x1="39.4" y1="894.3" x2="122.8" y2="894.3" stroke="#808080" stroke-width="0.8"/>
<line x1="36.6" y1="751.4" x2="39.4" y2="751.4" stroke="#808080" stroke-width="0.8"/>
<text x="32.8" y="754.7" text-anchor="end" style="font-size:9.3px">2.5</text>
<line x1="36.6" y1="800.4" x2="39.4" y2="800.4" stroke="#808080" stroke-width="0.8"/>
<text x="32.8" y="803.7" text-anchor="end" style="font-size:9.3px">0</text>
<line x1="36.6" y1="850.1" x2="39.4" y2="850.1" stroke="#808080" stroke-width="0.8"/>
<text x="32.8" y="853.4" text-anchor="end" style="font-size:9.3px">−2.5</text>
<line x1="62.3" y1="894.3" x2="62.3" y2="896.9" stroke="#a0a0a0" stroke-width="0.8"/>
<line x1="99.9" y1="894.3" x2="99.9" y2="896.9" stroke="#a0a0a0" stroke-width="0.8"/>
<text x="79.9" y="716" text-anchor="middle" textLength="60" lengthAdjust="spacingAndGlyphs" style="font-size:8.8px"><tspan style="font-style:italic">P</tspan><tspan fill="#888"> = </tspan>&lt; 2 × 10<tspan style="font-size:5.6px" dy="-3.6">−16</tspan></text>
<text x="61.1" y="907.7" text-anchor="middle" style="font-size:9px">Control</text>
<text x="61.1" y="918.8" text-anchor="middle" style="font-size:9px">(CMD)</text>
<text x="98.7" y="907.7" text-anchor="middle" style="font-size:9px">ADV-A</text>
<text x="98.7" y="918.8" text-anchor="middle" style="font-size:9px">(QD)</text>
<line x1="148.7" y1="713.4" x2="148.7" y2="894.3" stroke="#808080" stroke-width="0.8"/>
<line x1="148.7" y1="894.3" x2="232.2" y2="894.3" stroke="#808080" stroke-width="0.8"/>
<line x1="145.9" y1="751.4" x2="148.7" y2="751.4" stroke="#808080" stroke-width="0.8"/>
<text x="142.1" y="754.7" text-anchor="end" style="font-size:9.3px">2.5</text>
<line x1="145.9" y1="800.9" x2="148.7" y2="800.9" stroke="#808080" stroke-width="0.8"/>
<text x="142.1" y="804.2" text-anchor="end" style="font-size:9.3px">0</text>
<line x1="145.9" y1="850.1" x2="148.7" y2="850.1" stroke="#808080" stroke-width="0.8"/>
<text x="142.1" y="853.4" text-anchor="end" style="font-size:9.3px">−2.5</text>
<line x1="171.7" y1="894.3" x2="171.7" y2="896.9" stroke="#a0a0a0" stroke-width="0.8"/>
<line x1="209.4" y1="894.3" x2="209.4" y2="896.9" stroke="#a0a0a0" stroke-width="0.8"/>
<text x="189.1" y="716" text-anchor="middle" textLength="60" lengthAdjust="spacingAndGlyphs" style="font-size:8.8px"><tspan style="font-style:italic">P</tspan><tspan fill="#888"> = </tspan>&lt; 2 × 10<tspan style="font-size:5.6px" dy="-3.6">−16</tspan></text>
<text x="170.5" y="907.7" text-anchor="middle" style="font-size:9px">Control</text>
<text x="170.5" y="918.8" text-anchor="middle" style="font-size:9px">(CMD)</text>
<text x="208.2" y="907.7" text-anchor="middle" style="font-size:9px">OFFSP</text>
<text x="208.2" y="918.8" text-anchor="middle" style="font-size:9px">(QD)</text>
<line x1="258" y1="712.8" x2="258" y2="894.3" stroke="#808080" stroke-width="0.8"/>
<line x1="258" y1="894.3" x2="339.6" y2="894.3" stroke="#808080" stroke-width="0.8"/>
<line x1="255.2" y1="753.1" x2="258" y2="753.1" stroke="#808080" stroke-width="0.8"/>
<text x="251.4" y="756.4" text-anchor="end" style="font-size:9.3px">2</text>
<line x1="255.2" y1="795" x2="258" y2="795" stroke="#808080" stroke-width="0.8"/>
<text x="251.4" y="798.3" text-anchor="end" style="font-size:9.3px">0</text>
<line x1="255.2" y1="837.1" x2="258" y2="837.1" stroke="#808080" stroke-width="0.8"/>
<text x="251.4" y="840.4" text-anchor="end" style="font-size:9.3px">−2</text>
<line x1="255.2" y1="879" x2="258" y2="879" stroke="#808080" stroke-width="0.8"/>
<text x="251.4" y="882.3" text-anchor="end" style="font-size:9.3px">−4</text>
<line x1="279.7" y1="894.3" x2="279.7" y2="896.9" stroke="#a0a0a0" stroke-width="0.8"/>
<line x1="317.7" y1="894.3" x2="317.7" y2="896.9" stroke="#a0a0a0" stroke-width="0.8"/>
<text x="298.5" y="716" text-anchor="middle" textLength="55.5" lengthAdjust="spacingAndGlyphs" style="font-size:8.8px"><tspan style="font-style:italic">P</tspan><tspan fill="#888"> = </tspan>5.3 × 10<tspan style="font-size:5.6px" dy="-3.6">−5</tspan></text>
<text x="278.5" y="907.7" text-anchor="middle" style="font-size:9px">Control</text>
<text x="278.5" y="918.8" text-anchor="middle" style="font-size:9px">(CMD)</text>
<text x="316.5" y="907.7" text-anchor="middle" style="font-size:9px">ADV-A</text>
<text x="316.5" y="918.8" text-anchor="middle" style="font-size:9px">(SDN)</text>
<line x1="365.4" y1="714.1" x2="365.4" y2="894.3" stroke="#808080" stroke-width="0.8"/>
<line x1="365.4" y1="894.3" x2="448.7" y2="894.3" stroke="#808080" stroke-width="0.8"/>
<line x1="362.6" y1="750.5" x2="365.4" y2="750.5" stroke="#808080" stroke-width="0.8"/>
<text x="358.8" y="753.8" text-anchor="end" style="font-size:9.3px">2.5</text>
<line x1="362.6" y1="799.3" x2="365.4" y2="799.3" stroke="#808080" stroke-width="0.8"/>
<text x="358.8" y="802.6" text-anchor="end" style="font-size:9.3px">0</text>
<line x1="362.6" y1="847.1" x2="365.4" y2="847.1" stroke="#808080" stroke-width="0.8"/>
<text x="358.8" y="850.4" text-anchor="end" style="font-size:9.3px">−2.5</text>
<line x1="388.2" y1="894.3" x2="388.2" y2="896.9" stroke="#a0a0a0" stroke-width="0.8"/>
<line x1="426.1" y1="894.3" x2="426.1" y2="896.9" stroke="#a0a0a0" stroke-width="0.8"/>
<text x="407.6" y="716" text-anchor="middle" textLength="33.2" lengthAdjust="spacingAndGlyphs" style="font-size:8.8px"><tspan style="font-style:italic">P</tspan><tspan fill="#888"> = </tspan>0.75</text>
<text x="387" y="907.7" text-anchor="middle" style="font-size:9px">Control</text>
<text x="387" y="918.8" text-anchor="middle" style="font-size:9px">(CMD)</text>
<text x="427.9" y="907.7" text-anchor="middle" style="font-size:9px">Non-ADV-A</text>
<text x="427.9" y="918.8" text-anchor="middle" style="font-size:9px">(SDN)</text>
<text x="7" y="804.6" text-anchor="middle" transform="rotate(-90 7 804.6)" style="font-size:9px">LGMS</text>
<path d="M62.1 770.9 C62.5 772.78 63.63 778.87 64.5 782.2 C65.37 785.53 66.42 788 67.3 790.9 C68.18 793.8 68.93 796.68 69.8 799.6 C70.67 802.52 71.7 805.48 72.5 808.4 C73.3 811.32 73.95 814.2 74.6 817.1 C75.25 820 75.97 822.9 76.4 825.8 C76.83 828.7 77.2 831.6 77.2 834.5 C77.2 837.4 77.03 840.3 76.4 843.2 C75.77 846.1 74.57 849 73.4 851.9 C72.23 854.8 70.7 857.7 69.4 860.6 C68.1 863.5 66.67 866.98 65.6 869.3 C64.53 871.62 63.58 873.33 63 874.5 C62.42 875.67 62.4 876.3 62.1 876.3 C61.8 876.3 61.78 875.67 61.2 874.5 C60.62 873.33 59.67 871.62 58.6 869.3 C57.53 866.98 56.1 863.5 54.8 860.6 C53.5 857.7 51.97 854.8 50.8 851.9 C49.63 849 48.43 846.1 47.8 843.2 C47.17 840.3 47 837.4 47 834.5 C47 831.6 47.37 828.7 47.8 825.8 C48.23 822.9 48.95 820 49.6 817.1 C50.25 814.2 50.9 811.32 51.7 808.4 C52.5 805.48 53.53 802.52 54.4 799.6 C55.27 796.68 56.02 793.8 56.9 790.9 C57.78 788 58.83 785.53 59.7 782.2 C60.57 778.87 61.7 772.78 62.1 770.9 Z" fill="#44abb0" stroke="#3a3a3a" stroke-width="0.8"/>
<line x1="62.1" y1="736.1" x2="62.1" y2="887.6" stroke="#3a3a3a" stroke-width="0.9"/>
<rect x="60.3" y="816.5" width="3.6" height="30.2" fill="#ffffff" stroke="#3a3a3a" stroke-width="0.6"/>
<line x1="60.3" y1="833.1" x2="63.9" y2="833.1" stroke="#3a3a3a" stroke-width="1"/>
<rect x="61" y="751.5" width="2.2" height="2.2" fill="#3a3a3a"/>
<rect x="61" y="762" width="2.2" height="2.2" fill="#3a3a3a"/>
<rect x="61" y="766.3" width="2.2" height="2.2" fill="#3a3a3a"/>
<path d="M99.9 730.6 C100.38 731.25 101.45 732.77 102.8 734.5 C104.15 736.23 106.38 738.82 108 741 C109.62 743.18 111.2 745.42 112.5 747.6 C113.8 749.78 115.03 751.93 115.8 754.1 C116.57 756.27 117 758.43 117.1 760.6 C117.2 762.77 116.73 764.93 116.4 767.1 C116.07 769.27 115.63 771.43 115.1 773.6 C114.57 775.77 113.95 777.92 113.2 780.1 C112.45 782.28 111.47 784.52 110.6 786.7 C109.73 788.88 108.87 791.03 108 793.2 C107.13 795.37 106.27 797.53 105.4 799.7 C104.53 801.87 103.57 803.82 102.8 806.2 C102.03 808.58 101.28 812.03 100.8 814 C100.32 815.97 100.2 818 99.9 818 C99.6 818 99.48 815.97 99 814 C98.52 812.03 97.77 808.58 97 806.2 C96.23 803.82 95.27 801.87 94.4 799.7 C93.53 797.53 92.67 795.37 91.8 793.2 C90.93 791.03 90.07 788.88 89.2 786.7 C88.33 784.52 87.35 782.28 86.6 780.1 C85.85 777.92 85.23 775.77 84.7 773.6 C84.17 771.43 83.73 769.27 83.4 767.1 C83.07 764.93 82.6 762.77 82.7 760.6 C82.8 758.43 83.23 756.27 84 754.1 C84.77 751.93 86 749.78 87.3 747.6 C88.6 745.42 90.18 743.18 91.8 741 C93.42 738.82 95.65 736.23 97 734.5 C98.35 732.77 99.42 731.25 99.9 730.6 Z" fill="#dc775e" stroke="#3a3a3a" stroke-width="0.8"/>
<line x1="99.9" y1="720.9" x2="99.9" y2="831.6" stroke="#3a3a3a" stroke-width="0.9"/>
<rect x="98.1" y="756.4" width="3.6" height="25" fill="#ffffff" stroke="#3a3a3a" stroke-width="0.6"/>
<line x1="98.1" y1="767.8" x2="101.7" y2="767.8" stroke="#3a3a3a" stroke-width="1"/>
<path d="M171.5 770.9 C171.88 772.78 172.98 778.87 173.8 782.2 C174.62 785.53 175.53 788 176.4 790.9 C177.27 793.8 178.22 796.68 179 799.6 C179.78 802.52 180.47 805.48 181.1 808.4 C181.73 811.32 182.28 814.2 182.8 817.1 C183.32 820 183.85 822.9 184.2 825.8 C184.55 828.7 185.07 831.6 184.9 834.5 C184.73 837.4 183.83 840.3 183.2 843.2 C182.57 846.1 182.03 849 181.1 851.9 C180.17 854.8 178.82 857.7 177.6 860.6 C176.38 863.5 174.73 866.98 173.8 869.3 C172.87 871.62 172.38 873.33 172 874.5 C171.62 875.67 171.67 876.3 171.5 876.3 C171.33 876.3 171.38 875.67 171 874.5 C170.62 873.33 170.13 871.62 169.2 869.3 C168.27 866.98 166.62 863.5 165.4 860.6 C164.18 857.7 162.83 854.8 161.9 851.9 C160.97 849 160.43 846.1 159.8 843.2 C159.17 840.3 158.27 837.4 158.1 834.5 C157.93 831.6 158.45 828.7 158.8 825.8 C159.15 822.9 159.68 820 160.2 817.1 C160.72 814.2 161.27 811.32 161.9 808.4 C162.53 805.48 163.22 802.52 164 799.6 C164.78 796.68 165.73 793.8 166.6 790.9 C167.47 788 168.38 785.53 169.2 782.2 C170.02 778.87 171.12 772.78 171.5 770.9 Z" fill="#44abb0" stroke="#3a3a3a" stroke-width="0.8"/>
<line x1="171.5" y1="734.9" x2="171.5" y2="887.6" stroke="#3a3a3a" stroke-width="0.9"/>
<rect x="169.7" y="815.7" width="3.6" height="29.6" fill="#ffffff" stroke="#3a3a3a" stroke-width="0.6"/>
<line x1="169.7" y1="830.6" x2="173.3" y2="830.6" stroke="#3a3a3a" stroke-width="1"/>
<rect x="170.4" y="750.7" width="2.2" height="2.2" fill="#3a3a3a"/>
<rect x="170.4" y="751.5" width="2.2" height="2.2" fill="#3a3a3a"/>
<rect x="170.4" y="761.1" width="2.2" height="2.2" fill="#3a3a3a"/>
<rect x="170.4" y="765.1" width="2.2" height="2.2" fill="#3a3a3a"/>
<path d="M209.5 731.1 C209.75 732.08 210.22 734.8 211 737 C211.78 739.2 213.18 741.87 214.2 744.3 C215.22 746.73 216.25 749.15 217.1 751.6 C217.95 754.05 218.32 756.55 219.3 759 C220.28 761.45 221.9 763.62 223 766.3 C224.1 768.98 225.53 772.67 225.9 775.1 C226.27 777.53 225.57 778.7 225.2 780.9 C224.83 783.1 224.43 785.85 223.7 788.3 C222.97 790.75 221.9 793.17 220.8 795.6 C219.7 798.03 218.25 800.47 217.1 802.9 C215.95 805.33 214.8 807.75 213.9 810.2 C213 812.65 212.32 815.4 211.7 817.6 C211.08 819.8 210.57 821.93 210.2 823.4 C209.83 824.87 209.73 826.4 209.5 826.4 C209.27 826.4 209.17 824.87 208.8 823.4 C208.43 821.93 207.92 819.8 207.3 817.6 C206.68 815.4 206 812.65 205.1 810.2 C204.2 807.75 203.05 805.33 201.9 802.9 C200.75 800.47 199.3 798.03 198.2 795.6 C197.1 793.17 196.03 790.75 195.3 788.3 C194.57 785.85 194.17 783.1 193.8 780.9 C193.43 778.7 192.73 777.53 193.1 775.1 C193.47 772.67 194.9 768.98 196 766.3 C197.1 763.62 198.72 761.45 199.7 759 C200.68 756.55 201.05 754.05 201.9 751.6 C202.75 749.15 203.78 746.73 204.8 744.3 C205.82 741.87 207.22 739.2 208 737 C208.78 734.8 209.25 732.08 209.5 731.1 Z" fill="#254b7d" stroke="#3a3a3a" stroke-width="0.8"/>
<line x1="209.5" y1="720.9" x2="209.5" y2="844" stroke="#3a3a3a" stroke-width="0.9"/>
<rect x="207.7" y="766.6" width="3.6" height="23.4" fill="#ffffff" stroke="#3a3a3a" stroke-width="0.6"/>
<line x1="207.7" y1="777.3" x2="211.3" y2="777.3" stroke="#3a3a3a" stroke-width="1"/>
<rect x="208.4" y="826.7" width="2.2" height="2.2" fill="#3a3a3a"/>
<path d="M279.9 760.7 C280.32 762.6 281.57 768.6 282.4 772.1 C283.23 775.6 284.08 778.52 284.9 781.7 C285.72 784.88 286.48 788.03 287.3 791.2 C288.12 794.37 289.03 797.53 289.8 800.7 C290.57 803.87 291.3 807.02 291.9 810.2 C292.5 813.38 293.08 817.25 293.4 819.8 C293.72 822.35 293.88 823.28 293.8 825.5 C293.72 827.72 293.43 830.25 292.9 833.1 C292.37 835.95 291.47 839.43 290.6 842.6 C289.73 845.77 288.75 848.92 287.7 852.1 C286.65 855.28 285.42 858.83 284.3 861.7 C283.18 864.57 281.73 867.4 281 869.3 C280.27 871.2 280.27 873.1 279.9 873.1 C279.53 873.1 279.53 871.2 278.8 869.3 C278.07 867.4 276.62 864.57 275.5 861.7 C274.38 858.83 273.15 855.28 272.1 852.1 C271.05 848.92 270.07 845.77 269.2 842.6 C268.33 839.43 267.43 835.95 266.9 833.1 C266.37 830.25 266.08 827.72 266 825.5 C265.92 823.28 266.08 822.35 266.4 819.8 C266.72 817.25 267.3 813.38 267.9 810.2 C268.5 807.02 269.23 803.87 270 800.7 C270.77 797.53 271.68 794.37 272.5 791.2 C273.32 788.03 274.08 784.88 274.9 781.7 C275.72 778.52 276.57 775.6 277.4 772.1 C278.23 768.6 279.48 762.6 279.9 760.7 Z" fill="#44abb0" stroke="#3a3a3a" stroke-width="0.8"/>
<line x1="279.9" y1="720.7" x2="279.9" y2="886.4" stroke="#3a3a3a" stroke-width="0.9"/>
<rect x="278.1" y="807" width="3.6" height="33.1" fill="#ffffff" stroke="#3a3a3a" stroke-width="0.6"/>
<line x1="278.1" y1="824" x2="281.7" y2="824" stroke="#3a3a3a" stroke-width="1"/>
<rect x="278.8" y="738.3" width="2.2" height="2.2" fill="#3a3a3a"/>
<rect x="278.8" y="749.1" width="2.2" height="2.2" fill="#3a3a3a"/>
<rect x="278.8" y="752.9" width="2.2" height="2.2" fill="#3a3a3a"/>
<rect x="278.8" y="754.9" width="2.2" height="2.2" fill="#3a3a3a"/>
<path d="M317.4 750.8 C317.57 751.28 318.08 752.65 318.4 753.7 C318.72 754.75 319.1 756.25 319.3 757.1 C319.5 757.95 319.63 758.05 319.6 758.8 C319.57 759.55 319.33 760.57 319.1 761.6 C318.87 762.63 318.4 763.85 318.2 765 C318 766.15 317.9 767.17 317.9 768.5 C317.9 769.83 317.87 771.67 318.2 773 C318.53 774.33 319.33 775.35 319.9 776.5 C320.47 777.65 321.17 778.77 321.6 779.9 C322.03 781.03 322.4 781.98 322.5 783.3 C322.6 784.62 322.07 786.28 322.2 787.8 C322.33 789.32 322.35 790.87 323.3 792.4 C324.25 793.93 326.38 795.48 327.9 797 C329.42 798.52 331.37 800.18 332.4 801.5 C333.43 802.82 334 803.75 334.1 804.9 C334.2 806.05 333.93 807.25 333 808.4 C332.07 809.55 329.92 810.67 328.5 811.8 C327.08 812.93 325.45 813.88 324.5 815.2 C323.55 816.52 323.38 818.18 322.8 819.7 C322.22 821.22 321.62 822.77 321 824.3 C320.38 825.83 319.67 827.57 319.1 828.9 C318.53 830.23 317.88 831.62 317.6 832.3 C317.32 832.98 317.47 833 317.4 833 C317.33 833 317.48 832.98 317.2 832.3 C316.92 831.62 316.27 830.23 315.7 828.9 C315.13 827.57 314.42 825.83 313.8 824.3 C313.18 822.77 312.58 821.22 312 819.7 C311.42 818.18 311.25 816.52 310.3 815.2 C309.35 813.88 307.72 812.93 306.3 811.8 C304.88 810.67 302.73 809.55 301.8 808.4 C300.87 807.25 300.6 806.05 300.7 804.9 C300.8 803.75 301.37 802.82 302.4 801.5 C303.43 800.18 305.38 798.52 306.9 797 C308.42 795.48 310.55 793.93 311.5 792.4 C312.45 790.87 312.47 789.32 312.6 787.8 C312.73 786.28 312.2 784.62 312.3 783.3 C312.4 781.98 312.77 781.03 313.2 779.9 C313.63 778.77 314.33 777.65 314.9 776.5 C315.47 775.35 316.27 774.33 316.6 773 C316.93 771.67 316.9 769.83 316.9 768.5 C316.9 767.17 316.8 766.15 316.6 765 C316.4 763.85 315.93 762.63 315.7 761.6 C315.47 760.57 315.23 759.55 315.2 758.8 C315.17 758.05 315.3 757.95 315.5 757.1 C315.7 756.25 316.08 754.75 316.4 753.7 C316.72 752.65 317.23 751.28 317.4 750.8 Z" fill="#ea9c22" stroke="#3a3a3a" stroke-width="0.8"/>
<line x1="317.4" y1="745.7" x2="317.4" y2="838" stroke="#3a3a3a" stroke-width="0.9"/>
<rect x="315.6" y="798.3" width="3.6" height="10.6" fill="#ffffff" stroke="#3a3a3a" stroke-width="0.6"/>
<line x1="315.6" y1="804.7" x2="319.2" y2="804.7" stroke="#3a3a3a" stroke-width="1"/>
<rect x="316.3" y="757.7" width="2.2" height="2.2" fill="#3a3a3a"/>
<rect x="316.3" y="778.8" width="2.2" height="2.2" fill="#3a3a3a"/>
<path d="M388.5 767.1 C388.83 769.03 389.82 775.27 390.5 778.7 C391.18 782.13 391.87 784.72 392.6 787.7 C393.33 790.68 394.15 793.62 394.9 796.6 C395.65 799.58 396.43 802.6 397.1 805.6 C397.77 808.6 398.4 811.62 398.9 814.6 C399.4 817.58 399.87 821.27 400.1 823.5 C400.33 825.73 400.45 825.92 400.3 828 C400.15 830.08 399.73 833.17 399.2 836 C398.67 838.83 397.9 842 397.1 845 C396.3 848 395.35 851.02 394.4 854 C393.45 856.98 392.23 860.52 391.4 862.9 C390.57 865.28 389.88 866.95 389.4 868.3 C388.92 869.65 388.8 871 388.5 871 C388.2 871 388.08 869.65 387.6 868.3 C387.12 866.95 386.43 865.28 385.6 862.9 C384.77 860.52 383.55 856.98 382.6 854 C381.65 851.02 380.7 848 379.9 845 C379.1 842 378.33 838.83 377.8 836 C377.27 833.17 376.85 830.08 376.7 828 C376.55 825.92 376.67 825.73 376.9 823.5 C377.13 821.27 377.6 817.58 378.1 814.6 C378.6 811.62 379.23 808.6 379.9 805.6 C380.57 802.6 381.35 799.58 382.1 796.6 C382.85 793.62 383.67 790.68 384.4 787.7 C385.13 784.72 385.82 782.13 386.5 778.7 C387.18 775.27 388.17 769.03 388.5 767.1 Z" fill="#44abb0" stroke="#3a3a3a" stroke-width="0.8"/>
<line x1="388.5" y1="730.4" x2="388.5" y2="883.5" stroke="#3a3a3a" stroke-width="0.9"/>
<rect x="386.7" y="810.1" width="3.6" height="30.4" fill="#ffffff" stroke="#3a3a3a" stroke-width="0.6"/>
<line x1="386.7" y1="825.7" x2="390.3" y2="825.7" stroke="#3a3a3a" stroke-width="1"/>
<rect x="387.4" y="746.3" width="2.2" height="2.2" fill="#3a3a3a"/>
<rect x="387.4" y="757" width="2.2" height="2.2" fill="#3a3a3a"/>
<rect x="387.4" y="760.6" width="2.2" height="2.2" fill="#3a3a3a"/>
<path d="M426.1 780.5 C426.58 781.7 427.72 785.02 429 787.7 C430.28 790.38 432.25 793.62 433.8 796.6 C435.35 799.58 436.95 802.6 438.3 805.6 C439.65 808.6 441.07 812.22 441.9 814.6 C442.73 816.98 443.3 817.82 443.3 819.9 C443.3 821.98 442.73 825 441.9 827.1 C441.07 829.2 439.5 830.72 438.3 832.5 C437.1 834.28 435.6 836.02 434.7 837.8 C433.8 839.58 433.27 841.1 432.9 843.2 C432.53 845.3 432.65 848.02 432.5 850.4 C432.35 852.78 432.47 855.12 432 857.5 C431.53 859.88 430.5 862.6 429.7 864.7 C428.9 866.8 427.8 868.9 427.2 870.1 C426.6 871.3 426.47 871.9 426.1 871.9 C425.73 871.9 425.6 871.3 425 870.1 C424.4 868.9 423.3 866.8 422.5 864.7 C421.7 862.6 420.67 859.88 420.2 857.5 C419.73 855.12 419.85 852.78 419.7 850.4 C419.55 848.02 419.67 845.3 419.3 843.2 C418.93 841.1 418.4 839.58 417.5 837.8 C416.6 836.02 415.1 834.28 413.9 832.5 C412.7 830.72 411.13 829.2 410.3 827.1 C409.47 825 408.9 821.98 408.9 819.9 C408.9 817.82 409.47 816.98 410.3 814.6 C411.13 812.22 412.55 808.6 413.9 805.6 C415.25 802.6 416.85 799.58 418.4 796.6 C419.95 793.62 421.92 790.38 423.2 787.7 C424.48 785.02 425.62 781.7 426.1 780.5 Z" fill="#0f6e38" stroke="#3a3a3a" stroke-width="0.8"/>
<line x1="426.1" y1="773" x2="426.1" y2="879.9" stroke="#3a3a3a" stroke-width="0.9"/>
<rect x="424.3" y="812.8" width="3.6" height="20" fill="#ffffff" stroke="#3a3a3a" stroke-width="0.6"/>
<line x1="424.3" y1="821.7" x2="427.9" y2="821.7" stroke="#3a3a3a" stroke-width="1"/>
<text x="519.4" y="308.3" textLength="119.5" lengthAdjust="spacingAndGlyphs" style="font-size:8.9px">Concurrent features of LGMS</text>
<text x="543.2" y="319.4" style="font-size:8.9px">and GMHI (ref. <tspan style="font-size:5.6px" dy="-3.4">21</tspan><tspan dy="3.4">)</tspan></text>
<text x="517.6" y="357.2" style="font-size:9px">Longevity prevalent</text>
<rect x="512.1" y="366.35" width="14.1" height="6.97" fill="#db557c"/>
<text x="530.8" y="371.4" style="font-size:7.7px"><tspan style="font-style:italic">Bifidobacterium dentium</tspan></text>
<rect x="512.1" y="373.82" width="14.1" height="6.97" fill="#db557c"/>
<text x="530.8" y="379.1" style="font-size:7.7px"><tspan style="font-style:italic">Clostridium asparagiforme</tspan></text>
<rect x="512.1" y="381.29" width="14.1" height="6.97" fill="#db557c"/>
<text x="530.8" y="386.8" style="font-size:7.7px"><tspan style="font-style:italic">Clostridium clostridioforme</tspan></text>
<rect x="512.1" y="388.76" width="14.1" height="6.97" fill="#db557c"/>
<text x="530.8" y="394.5" style="font-size:7.7px"><tspan style="font-style:italic">Clostridium nexile</tspan></text>
<rect x="512.1" y="396.23" width="14.1" height="6.97" fill="#db557c"/>
<text x="530.8" y="402.2" style="font-size:7.7px"><tspan style="font-style:italic">Clostridium symbiosum</tspan></text>
<rect x="512.1" y="403.7" width="14.1" height="6.97" fill="#db557c"/>
<text x="530.8" y="409.9" style="font-size:7.7px">Clostridiales bact._1_7_47FAA</text>
<rect x="512.1" y="411.17" width="14.1" height="6.97" fill="#db557c"/>
<text x="530.8" y="417.6" style="font-size:7.7px">Lachnospiraceae bact._5_1_57FAA</text>
<rect x="512.1" y="418.64" width="14.1" height="6.97" fill="#db557c"/>
<text x="530.8" y="425.3" style="font-size:7.7px"><tspan style="font-style:italic">Subdoligranulum</tspan> sp_4_3_54A2FAAF</text>
<rect x="512.1" y="426.11" width="14.1" height="6.97" fill="#db557c"/>
<text x="530.8" y="433" style="font-size:7.7px"><tspan style="font-style:italic">Klebsiella pneumoniae</tspan></text>
<text x="517.6" y="459.3" style="font-size:9px">Longevity scarce</text>
<rect x="512.1" y="468.35" width="14.1" height="6.84" fill="#db557c"/>
<text x="530.8" y="473.7" style="font-size:7.7px"><tspan style="font-style:italic">Bifidobacterium adolescentis</tspan></text>
<rect x="512.1" y="475.69" width="14.1" height="6.84" fill="#db557c"/>
<text x="530.8" y="481.17" style="font-size:7.7px"><tspan style="font-style:italic">Bifidobacterium angulatum</tspan></text>
<rect x="512.1" y="483.03" width="14.1" height="6.84" fill="#db557c"/>
<text x="530.8" y="488.64" style="font-size:7.7px"><tspan style="font-style:italic">Bifidobacterium catenulatum</tspan></text>
<rect x="512.1" y="490.37" width="14.1" height="6.84" fill="#74bf4e"/>
<text x="530.8" y="496.11" style="font-size:7.7px"><tspan style="font-style:italic">Gemella sanguinis</tspan></text>
<rect x="512.1" y="497.71" width="14.1" height="6.84" fill="#74bf4e"/>
<text x="530.8" y="503.58" style="font-size:7.7px"><tspan style="font-style:italic">Granulicatella adiacens</tspan></text>
<rect x="512.1" y="505.05" width="14.1" height="6.84" fill="#74bf4e"/>
<text x="530.8" y="511.05" style="font-size:7.7px"><tspan style="font-style:italic">Streptococcus infantis</tspan></text>
<rect x="512.1" y="512.39" width="14.1" height="6.84" fill="#74bf4e"/>
<text x="530.8" y="518.52" style="font-size:7.7px"><tspan style="font-style:italic">Streptococcus mitis oralis pneumoniae</tspan></text>
<rect x="512.1" y="519.73" width="14.1" height="6.84" fill="#74bf4e"/>
<text x="530.8" y="525.99" style="font-size:7.7px"><tspan style="font-style:italic">Streptococcus sanguinis</tspan></text>
<rect x="512.1" y="527.07" width="14.1" height="6.84" fill="#74bf4e"/>
<text x="530.8" y="533.46" style="font-size:7.7px"><tspan style="font-style:italic">Streptococcus vestibularis</tspan></text>
<rect x="512.1" y="534.41" width="14.1" height="6.84" fill="#74bf4e"/>
<text x="530.8" y="540.93" style="font-size:7.7px"><tspan style="font-style:italic">Blautia producta</tspan></text>
<rect x="512.1" y="541.75" width="14.1" height="6.84" fill="#db557c"/>
<text x="530.8" y="548.4" style="font-size:7.7px">Lachnospiraceae bact._8_1_57FAA</text>
<rect x="512.1" y="549.09" width="14.1" height="6.84" fill="#74bf4e"/>
<text x="530.8" y="555.87" style="font-size:7.7px">Ruminococcaceae bact._D16</text>
<rect x="512.1" y="556.43" width="14.1" height="6.84" fill="#74bf4e"/>
<text x="530.8" y="563.34" style="font-size:7.7px"><tspan style="font-style:italic">Subdoligranulum variabile</tspan></text>
<rect x="512.1" y="563.77" width="14.1" height="6.84" fill="#db557c"/>
<text x="530.8" y="570.81" style="font-size:7.7px"><tspan style="font-style:italic">Sutterella wadsworthensis</tspan></text>
<rect x="512.7" y="592" width="14.3" height="6.5" fill="#db557c"/>
<text x="529.7" y="597.4" style="font-size:7.8px">Unfavorable (longevity + and health –;</text>
<text x="573.5" y="606" style="font-size:7.8px">longevity – and health +)</text>
<rect x="512.7" y="618.2" width="14.3" height="6.2" fill="#74bf4e"/>
<text x="531" y="623.6" style="font-size:7.8px">Favorable (longevity + and health +;</text>
<text x="567.5" y="633" style="font-size:7.8px">longevity – and health –)</text>
<text x="586.1" y="713.6" text-anchor="middle" style="font-size:8.9px">FDR &gt; 0.1 + ICC &lt; 0</text>
<line x1="503" y1="717.7" x2="671.5" y2="717.7" stroke="#555" stroke-width="0.8"/>
<rect x="604.3" y="733" width="10.1" height="2.7" fill="#e64c24"/>
<rect x="604.3" y="743" width="10.1" height="2.7" fill="#1f4a80"/>
<text x="618.5" y="736.5" style="font-size:8px">Advanced age</text>
<text x="618.5" y="746.6" style="font-size:8px">Offspring</text>
<text x="630" y="764.1" text-anchor="middle" style="font-size:9px">Species</text>
<rect x="589.9" y="768.9" width="80.8" height="82.4" fill="none" stroke="#a0a0a0" stroke-width="0.8"/>
<line x1="587.7" y1="778.1" x2="589.9" y2="778.1" stroke="#555" stroke-width="0.7"/>
<line x1="587.7" y1="791.17" x2="589.9" y2="791.17" stroke="#555" stroke-width="0.7"/>
<line x1="587.7" y1="804.24" x2="589.9" y2="804.24" stroke="#555" stroke-width="0.7"/>
<line x1="587.7" y1="817.31" x2="589.9" y2="817.31" stroke="#555" stroke-width="0.7"/>
<line x1="587.7" y1="830.38" x2="589.9" y2="830.38" stroke="#555" stroke-width="0.7"/>
<line x1="587.7" y1="843.45" x2="589.9" y2="843.45" stroke="#555" stroke-width="0.7"/>
<line x1="592.96" y1="851.3" x2="592.96" y2="853.5" stroke="#555" stroke-width="0.7"/>
<text x="592.96" y="863.9" text-anchor="middle" style="font-size:8.6px">−4</text>
<line x1="605.82" y1="851.3" x2="605.82" y2="853.5" stroke="#555" stroke-width="0.7"/>
<text x="605.82" y="863.9" text-anchor="middle" style="font-size:8.6px">−3</text>
<line x1="618.68" y1="851.3" x2="618.68" y2="853.5" stroke="#555" stroke-width="0.7"/>
<text x="618.68" y="863.9" text-anchor="middle" style="font-size:8.6px">−2</text>
<line x1="631.54" y1="851.3" x2="631.54" y2="853.5" stroke="#555" stroke-width="0.7"/>
<text x="631.54" y="863.9" text-anchor="middle" style="font-size:8.6px">−1</text>
<line x1="644.4" y1="851.3" x2="644.4" y2="853.5" stroke="#555" stroke-width="0.7"/>
<text x="644.4" y="863.9" text-anchor="middle" style="font-size:8.6px">0</text>
<line x1="657.26" y1="851.3" x2="657.26" y2="853.5" stroke="#555" stroke-width="0.7"/>
<text x="657.26" y="863.9" text-anchor="middle" style="font-size:8.6px">1</text>
<line x1="670.12" y1="851.3" x2="670.12" y2="853.5" stroke="#555" stroke-width="0.7"/>
<text x="670.12" y="863.9" text-anchor="middle" style="font-size:8.6px">2</text>
<line x1="592.9" y1="776.3" x2="643.1" y2="776.3" stroke="#f3a089" stroke-width="1" stroke-dasharray="1,1.8"/>
<line x1="657" y1="776.3" x2="665.8" y2="776.3" stroke="#f3a089" stroke-width="1" stroke-dasharray="1,1.8"/>
<rect x="643.1" y="774.8" width="13.9" height="3" fill="#e64c24"/>
<line x1="650.75" y1="774.8" x2="650.75" y2="777.8" stroke="rgba(255,200,180,0.6)" stroke-width="0.9"/>
<line x1="592.9" y1="779.9" x2="644.4" y2="779.9" stroke="#8db3db" stroke-width="1" stroke-dasharray="1,1.8"/>
<line x1="656.6" y1="779.9" x2="663.6" y2="779.9" stroke="#8db3db" stroke-width="1" stroke-dasharray="1,1.8"/>
<rect x="644.4" y="778.4" width="12.2" height="3" fill="#1f4a80"/>
<line x1="651.11" y1="778.4" x2="651.11" y2="781.4" stroke="rgba(170,205,240,0.75)" stroke-width="0.9"/>
<line x1="614.6" y1="789.37" x2="635.6" y2="789.37" stroke="#f3a089" stroke-width="1" stroke-dasharray="2,2.4"/>
<line x1="652.7" y1="789.37" x2="661.2" y2="789.37" stroke="#f3a089" stroke-width="1" stroke-dasharray="2,2.4"/>
<rect x="635.6" y="787.87" width="17.1" height="3" fill="#e64c24"/>
<line x1="645" y1="787.87" x2="645" y2="790.87" stroke="rgba(255,200,180,0.6)" stroke-width="0.9"/>
<line x1="592.9" y1="792.97" x2="637.3" y2="792.97" stroke="#8db3db" stroke-width="1" stroke-dasharray="1,1.8"/>
<line x1="651" y1="792.97" x2="663.6" y2="792.97" stroke="#8db3db" stroke-width="1" stroke-dasharray="1,1.8"/>
<rect x="637.3" y="791.47" width="13.7" height="3" fill="#1f4a80"/>
<line x1="644.84" y1="791.47" x2="644.84" y2="794.47" stroke="rgba(170,205,240,0.75)" stroke-width="0.9"/>
<line x1="614" y1="802.44" x2="636" y2="802.44" stroke="#f3a089" stroke-width="1" stroke-dasharray="2,2.4"/>
<line x1="651" y1="802.44" x2="665.4" y2="802.44" stroke="#f3a089" stroke-width="1" stroke-dasharray="2,2.4"/>
<rect x="636" y="800.94" width="15" height="3" fill="#e64c24"/>
<line x1="644.25" y1="800.94" x2="644.25" y2="803.94" stroke="rgba(255,200,180,0.6)" stroke-width="0.9"/>
<line x1="592.9" y1="806.04" x2="638.2" y2="806.04" stroke="#8db3db" stroke-width="1" stroke-dasharray="1,1.8"/>
<line x1="649.1" y1="806.04" x2="666.5" y2="806.04" stroke="#8db3db" stroke-width="1" stroke-dasharray="1,1.8"/>
<rect x="638.2" y="804.54" width="10.9" height="3" fill="#1f4a80"/>
<line x1="644.2" y1="804.54" x2="644.2" y2="807.54" stroke="rgba(170,205,240,0.75)" stroke-width="0.9"/>
<line x1="638.9" y1="815.51" x2="664.5" y2="815.51" stroke="#f3a089" stroke-width="1" stroke-dasharray="2,2.4"/>
<rect x="593.1" y="814.01" width="45.8" height="3" fill="#e64c24"/>
<line x1="618.29" y1="814.01" x2="618.29" y2="817.01" stroke="rgba(255,200,180,0.6)" stroke-width="0.9"/>
<line x1="625.1" y1="819.11" x2="664.5" y2="819.11" stroke="#8db3db" stroke-width="1" stroke-dasharray="2,2.4"/>
<rect x="593.1" y="817.61" width="32" height="3" fill="#1f4a80"/>
<line x1="610.7" y1="817.61" x2="610.7" y2="820.61" stroke="rgba(170,205,240,0.75)" stroke-width="0.9"/>
<line x1="611.3" y1="828.58" x2="625.1" y2="828.58" stroke="#f3a089" stroke-width="1" stroke-dasharray="2,2.4"/>
<line x1="642.8" y1="828.58" x2="657.9" y2="828.58" stroke="#f3a089" stroke-width="1" stroke-dasharray="2,2.4"/>
<rect x="625.1" y="827.08" width="17.7" height="3" fill="#e64c24"/>
<line x1="634.84" y1="827.08" x2="634.84" y2="830.08" stroke="rgba(255,200,180,0.6)" stroke-width="0.9"/>
<line x1="593.1" y1="832.18" x2="624.2" y2="832.18" stroke="#8db3db" stroke-width="1" stroke-dasharray="2,2.4"/>
<line x1="646.1" y1="832.18" x2="663.6" y2="832.18" stroke="#8db3db" stroke-width="1" stroke-dasharray="2,2.4"/>
<rect x="624.2" y="830.68" width="21.9" height="3" fill="#1f4a80"/>
<line x1="636.25" y1="830.68" x2="636.25" y2="833.68" stroke="rgba(170,205,240,0.75)" stroke-width="0.9"/>
<line x1="610" y1="841.65" x2="634.3" y2="841.65" stroke="#f3a089" stroke-width="1" stroke-dasharray="2,2.4"/>
<line x1="645.2" y1="841.65" x2="661" y2="841.65" stroke="#f3a089" stroke-width="1" stroke-dasharray="2,2.4"/>
<rect x="634.3" y="840.15" width="10.9" height="3" fill="#e64c24"/>
<line x1="640.29" y1="840.15" x2="640.29" y2="843.15" stroke="rgba(255,200,180,0.6)" stroke-width="0.9"/>
<line x1="608" y1="845.25" x2="633.1" y2="845.25" stroke="#8db3db" stroke-width="1" stroke-dasharray="2,2.4"/>
<line x1="645.4" y1="845.25" x2="659.9" y2="845.25" stroke="#8db3db" stroke-width="1" stroke-dasharray="2,2.4"/>
<rect x="633.1" y="843.75" width="12.3" height="3" fill="#1f4a80"/>
<line x1="639.87" y1="843.75" x2="639.87" y2="846.75" stroke="rgba(170,205,240,0.75)" stroke-width="0.9"/>
<text x="583" y="780.11" text-anchor="end" style="font-size:7.8px;font-style:italic">Alistipes putredinis</text>
<text x="583" y="793.18" text-anchor="end" style="font-size:7.8px;font-style:italic">Bacteroides uniformis</text>
<text x="583" y="806.25" text-anchor="end" style="font-size:7.8px;font-style:italic">Bacteroides vulgatus</text>
<text x="583" y="819.32" text-anchor="end" style="font-size:7.8px;font-style:italic">Prevotella stercorea</text>
<text x="583" y="832.39" text-anchor="end" style="font-size:7.8px;font-style:italic">Enterobacter cloacae</text>
<text x="583" y="845.46" text-anchor="end" style="font-size:7.8px;font-style:italic">Bacteroides thetaiotaomicron</text>
<text x="571" y="877.1" style="font-size:8px">log<tspan style="font-size:4.8px" dy="2">10</tspan><tspan dy="-2"> (relative abundance + 1e-4)</tspan></text>
<path d="M493.5 769.2 H477.8 V847 H493.5" fill="none" stroke="#a8a8a8" stroke-width="0.8"/>
<text x="473" y="808.2" text-anchor="middle" transform="rotate(-90 473 808.2)" style="font-size:7.5px">Age-stable</text>
<path d="M491 771.9 L496 776.5 L491 781.1 L486 776.5 Z" fill="#86cddb"/>
<line x1="486.8" y1="776.5" x2="495.2" y2="776.5" stroke="rgba(255,255,255,0.7)" stroke-width="0.8"/>
<line x1="491" y1="772.7" x2="491" y2="780.3" stroke="rgba(255,255,255,0.5)" stroke-width="0.8"/>
<path d="M491.8 894.5 L496.8 899.1 L491.8 903.7 L486.8 899.1 Z" fill="#86cddb"/>
<line x1="487.6" y1="899.1" x2="496" y2="899.1" stroke="rgba(255,255,255,0.7)" stroke-width="0.8"/>
<line x1="491.8" y1="895.3" x2="491.8" y2="902.9" stroke="rgba(255,255,255,0.5)" stroke-width="0.8"/>
<text x="506.1" y="902.2" style="font-size:9.2px">Validated in sardinia centanarian</text>
<text x="506.1" y="913.8" style="font-size:9.2px">cohort (ref. <tspan style="font-size:5.8px" dy="-3.6">17</tspan><tspan dy="3.6">)</tspan></text>
<defs><clipPath id="cpo"><ellipse cx="523.3" cy="83.5" rx="52.15" ry="43.65" transform="rotate(53.4 523.3 83.5)"/></clipPath></defs>
<ellipse cx="507.5" cy="117" rx="62.2" ry="48.4" fill="#cbd2de" stroke="#ecd6d4" stroke-width="0.7"/>
<ellipse cx="523.3" cy="83.5" rx="52.15" ry="43.65" transform="rotate(53.4 523.3 83.5)" fill="#f2d3c4" stroke="#d9c2c0" stroke-width="0.6"/>
<ellipse cx="507.5" cy="117" rx="62.2" ry="48.4" fill="#c8b7b8" clip-path="url(#cpo)"/>
<ellipse cx="523.3" cy="83.5" rx="52.15" ry="43.65" transform="rotate(53.4 523.3 83.5)" fill="none" stroke="#c0a8a8" stroke-width="0.5"/>
<rect x="397.8" y="6" width="229.1" height="229.8" fill="none" stroke="#8c8c8c" stroke-width="0.8"/>
<line x1="512.3" y1="6" x2="512.3" y2="235.8" stroke="#444" stroke-width="0.8" stroke-dasharray="1.6,1.6"/>
<line x1="397.8" y1="106.4" x2="626.9" y2="106.4" stroke="#444" stroke-width="0.8" stroke-dasharray="1.6,1.6"/>
<line x1="394.4" y1="15.5" x2="397.8" y2="15.5" stroke="#9a9a9a" stroke-width="0.8"/>
<text x="390.4" y="18.4" text-anchor="end" style="font-size:7.8px">0.3</text>
<line x1="394.4" y1="45.8" x2="397.8" y2="45.8" stroke="#9a9a9a" stroke-width="0.8"/>
<text x="390.4" y="48.7" text-anchor="end" style="font-size:7.8px">0.2</text>
<line x1="394.4" y1="76.1" x2="397.8" y2="76.1" stroke="#9a9a9a" stroke-width="0.8"/>
<text x="390.4" y="79" text-anchor="end" style="font-size:7.8px">0.1</text>
<line x1="394.4" y1="106.4" x2="397.8" y2="106.4" stroke="#9a9a9a" stroke-width="0.8"/>
<text x="390.4" y="109.3" text-anchor="end" style="font-size:7.8px">0</text>
<line x1="394.4" y1="136.7" x2="397.8" y2="136.7" stroke="#9a9a9a" stroke-width="0.8"/>
<text x="390.4" y="139.6" text-anchor="end" style="font-size:7.8px">−0.1</text>
<line x1="394.4" y1="167" x2="397.8" y2="167" stroke="#9a9a9a" stroke-width="0.8"/>
<text x="390.4" y="169.9" text-anchor="end" style="font-size:7.8px">−0.2</text>
<line x1="394.4" y1="197.3" x2="397.8" y2="197.3" stroke="#9a9a9a" stroke-width="0.8"/>
<text x="390.4" y="200.2" text-anchor="end" style="font-size:7.8px">−0.3</text>
<line x1="394.4" y1="227.6" x2="397.8" y2="227.6" stroke="#9a9a9a" stroke-width="0.8"/>
<text x="390.4" y="230.5" text-anchor="end" style="font-size:7.8px">−0.4</text>
<line x1="406.7" y1="235.8" x2="406.7" y2="239.4" stroke="#9a9a9a" stroke-width="0.8"/>
<text x="406.7" y="248.8" text-anchor="middle" style="font-size:8.9px">−0.4</text>
<line x1="459.5" y1="235.8" x2="459.5" y2="239.4" stroke="#9a9a9a" stroke-width="0.8"/>
<text x="459.5" y="248.8" text-anchor="middle" style="font-size:8.9px">−0.2</text>
<line x1="512.3" y1="235.8" x2="512.3" y2="239.4" stroke="#9a9a9a" stroke-width="0.8"/>
<text x="512.3" y="248.8" text-anchor="middle" style="font-size:8.9px">0</text>
<line x1="565.1" y1="235.8" x2="565.1" y2="239.4" stroke="#9a9a9a" stroke-width="0.8"/>
<text x="565.1" y="248.8" text-anchor="middle" style="font-size:8.9px">0.2</text>
<line x1="617.9" y1="235.8" x2="617.9" y2="239.4" stroke="#9a9a9a" stroke-width="0.8"/>
<text x="617.9" y="248.8" text-anchor="middle" style="font-size:8.9px">0.4</text>
<text x="512.6" y="262.2" text-anchor="middle" style="font-size:9.1px">PCoA1 (18.33%)</text>
<text x="366" y="131.2" text-anchor="middle" transform="rotate(-90 366 131.2)" textLength="68.5" lengthAdjust="spacingAndGlyphs" style="font-size:8.6px">PCoA2 (10.91%)</text>
<path d="M476.5 10.21 L479.5 10.21 L478 7.6 Z" fill="#4a6598"/>
<path d="M477.3 10.71 L480.3 10.71 L478.8 8.1 Z" fill="#4a6598"/>
<path d="M485.2 13.71 L488.2 13.71 L486.7 11.1 Z" fill="#4a6598"/>
<path d="M486.1 14.71 L489.1 14.71 L487.6 12.1 Z" fill="#4a6598"/>
<path d="M514.5 7.21 L517.5 7.21 L516 4.6 Z" fill="#e9714b"/>
<path d="M517.6 11.21 L520.6 11.21 L519.1 8.6 Z" fill="#e9714b"/>
<path d="M430 20.7 L433 20.7 L431.5 18.09 Z" fill="#4a6598"/>
<path d="M495.7 20.7 L498.7 20.7 L497.2 18.09 Z" fill="#e9714b"/>
<path d="M500.5 18.91 L503.5 18.91 L502 16.3 Z" fill="#4a6598"/>
<path d="M506.8 21.2 L509.8 21.2 L508.3 18.59 Z" fill="#4a6598"/>
<path d="M467.7 27.3 L470.7 27.3 L469.2 24.7 Z" fill="#e9714b"/>
<path d="M511.5 26.41 L514.5 26.41 L513 23.8 Z" fill="#e9714b"/>
<path d="M498.9 36.41 L501.9 36.41 L500.4 33.8 Z" fill="#e9714b"/>
<path d="M505.7 36.1 L508.7 36.1 L507.2 33.49 Z" fill="#e9714b"/>
<path d="M516.2 37.8 L519.2 37.8 L517.7 35.2 Z" fill="#e9714b"/>
<path d="M482.9 39.91 L485.9 39.91 L484.4 37.3 Z" fill="#4a6598"/>
<path d="M506.2 40.51 L509.2 40.51 L507.7 37.9 Z" fill="#e9714b"/>
<path d="M510.6 42.2 L513.6 42.2 L512.1 39.59 Z" fill="#4a6598"/>
<path d="M427.9 44.01 L430.9 44.01 L429.4 41.4 Z" fill="#4a6598"/>
<path d="M427.9 50.41 L430.9 50.41 L429.4 47.8 Z" fill="#4a6598"/>
<path d="M483.8 47.51 L486.8 47.51 L485.3 44.9 Z" fill="#e9714b"/>
<path d="M489.6 48.7 L492.6 48.7 L491.1 46.09 Z" fill="#4a6598"/>
<path d="M516.8 48.01 L519.8 48.01 L518.3 45.4 Z" fill="#e9714b"/>
<path d="M502.7 53.3 L505.7 53.3 L504.2 50.7 Z" fill="#e9714b"/>
<path d="M412.2 59.2 L415.2 59.2 L413.7 56.59 Z" fill="#e9714b"/>
<path d="M475.6 55.91 L478.6 55.91 L477.1 53.3 Z" fill="#4a6598"/>
<path d="M482.9 55.41 L485.9 55.41 L484.4 52.8 Z" fill="#4a6598"/>
<path d="M485.2 57.1 L488.2 57.1 L486.7 54.49 Z" fill="#e9714b"/>
<path d="M487.8 60.3 L490.8 60.3 L489.3 57.7 Z" fill="#4a6598"/>
<path d="M486.1 62.41 L489.1 62.41 L487.6 59.8 Z" fill="#e9714b"/>
<path d="M487 64.11 L490 64.11 L488.5 61.49 Z" fill="#e9714b"/>
<path d="M492.8 59.7 L495.8 59.7 L494.3 57.09 Z" fill="#4a6598"/>
<path d="M489.6 65.01 L492.6 65.01 L491.1 62.4 Z" fill="#4a6598"/>
<path d="M482.2 67.31 L485.2 67.31 L483.7 64.69 Z" fill="#e9714b"/>
<path d="M485.6 67.31 L488.6 67.31 L487.1 64.69 Z" fill="#4a6598"/>
<path d="M494 67.61 L497 67.61 L495.5 64.99 Z" fill="#4a6598"/>
<path d="M500.1 65.01 L503.1 65.01 L501.6 62.4 Z" fill="#4a6598"/>
<path d="M500.1 69.41 L503.1 69.41 L501.6 66.79 Z" fill="#4a6598"/>
<path d="M469.5 67.31 L472.5 67.31 L471 64.69 Z" fill="#e9714b"/>
<path d="M473.8 68.81 L476.8 68.81 L475.3 66.19 Z" fill="#4a6598"/>
<path d="M494 72.51 L497 72.51 L495.5 69.89 Z" fill="#4a6598"/>
<path d="M508.9 72.51 L511.9 72.51 L510.4 69.89 Z" fill="#e9714b"/>
<path d="M515 65.01 L518 65.01 L516.5 62.4 Z" fill="#4a6598"/>
<path d="M517.6 59.7 L520.6 59.7 L519.1 57.09 Z" fill="#4a6598"/>
<path d="M516.8 53.6 L519.8 53.6 L518.3 50.99 Z" fill="#e9714b"/>
<path d="M405.9 76.41 L408.9 76.41 L407.4 73.79 Z" fill="#e9714b"/>
<path d="M501 75.51 L504 75.51 L502.5 72.89 Z" fill="#e9714b"/>
<path d="M409.4 89.51 L412.4 89.51 L410.9 86.89 Z" fill="#4a6598"/>
<path d="M429.7 92.11 L432.7 92.11 L431.2 89.49 Z" fill="#4a6598"/>
<path d="M439.7 95.31 L442.7 95.31 L441.2 92.69 Z" fill="#4a6598"/>
<path d="M460.7 86.01 L463.7 86.01 L462.2 83.39 Z" fill="#e9714b"/>
<path d="M458.4 89.51 L461.4 89.51 L459.9 86.89 Z" fill="#e9714b"/>
<path d="M477 93.01 L480 93.01 L478.5 90.39 Z" fill="#4a6598"/>
<path d="M497.5 90.41 L500.5 90.41 L499 87.79 Z" fill="#4a6598"/>
<path d="M504.5 82.51 L507.5 82.51 L506 79.89 Z" fill="#4a6598"/>
<path d="M508.9 89.51 L511.9 89.51 L510.4 86.89 Z" fill="#4a6598"/>
<path d="M526.9 9.5 L529.9 9.5 L528.4 6.89 Z" fill="#4a6598"/>
<path d="M523.9 21.2 L526.9 21.2 L525.4 18.59 Z" fill="#4a6598"/>
<path d="M526.4 21.7 L529.4 21.7 L527.9 19.09 Z" fill="#e9714b"/>
<path d="M529.2 28.2 L532.2 28.2 L530.7 25.59 Z" fill="#e9714b"/>
<path d="M536.5 28.2 L539.5 28.2 L538 25.59 Z" fill="#4a6598"/>
<path d="M530.9 32.61 L533.9 32.61 L532.4 30 Z" fill="#e9714b"/>
<path d="M520.4 35.6 L523.4 35.6 L521.9 32.99 Z" fill="#4a6598"/>
<path d="M550 37.8 L553 37.8 L551.5 35.2 Z" fill="#e9714b"/>
<path d="M532.2 39.91 L535.2 39.91 L533.7 37.3 Z" fill="#4a6598"/>
<path d="M564.2 43.1 L567.2 43.1 L565.7 40.49 Z" fill="#e9714b"/>
<path d="M527.4 46.2 L530.4 46.2 L528.9 43.59 Z" fill="#e9714b"/>
<path d="M530.4 47.51 L533.4 47.51 L531.9 44.9 Z" fill="#e9714b"/>
<path d="M528.1 49.2 L531.1 49.2 L529.6 46.59 Z" fill="#e9714b"/>
<path d="M533 51.01 L536 51.01 L534.5 48.4 Z" fill="#e9714b"/>
<path d="M523.9 53.3 L526.9 53.3 L525.4 50.7 Z" fill="#e9714b"/>
<path d="M535.7 53.3 L538.7 53.3 L537.2 50.7 Z" fill="#e9714b"/>
<path d="M546.2 53.3 L549.2 53.3 L547.7 50.7 Z" fill="#4a6598"/>
<path d="M536.2 58.51 L539.2 58.51 L537.7 55.9 Z" fill="#e9714b"/>
<path d="M514.6 64.51 L517.6 64.51 L516.1 61.9 Z" fill="#4a6598"/>
<path d="M556.7 61.51 L559.7 61.51 L558.2 58.9 Z" fill="#e9714b"/>
<path d="M528.1 65.91 L531.1 65.91 L529.6 63.29 Z" fill="#e9714b"/>
<path d="M533.9 68.51 L536.9 68.51 L535.4 65.89 Z" fill="#4a6598"/>
<path d="M533 70.81 L536 70.81 L534.5 68.19 Z" fill="#e9714b"/>
<path d="M539.7 70.21 L542.7 70.21 L541.2 67.59 Z" fill="#4a6598"/>
<path d="M573.7 76.01 L576.7 76.01 L575.2 73.39 Z" fill="#e9714b"/>
<path d="M582.4 77.31 L585.4 77.31 L583.9 74.69 Z" fill="#e9714b"/>
<path d="M581.7 82.01 L584.7 82.01 L583.2 79.39 Z" fill="#e9714b"/>
<path d="M518.7 80.81 L521.7 80.81 L520.2 78.19 Z" fill="#e9714b"/>
<path d="M555.8 87.21 L558.8 87.21 L557.3 84.59 Z" fill="#e9714b"/>
<path d="M570.7 88.31 L573.7 88.31 L572.2 85.69 Z" fill="#e9714b"/>
<path d="M573 89.51 L576 89.51 L574.5 86.89 Z" fill="#e9714b"/>
<path d="M585.6 93.01 L588.6 93.01 L587.1 90.39 Z" fill="#e9714b"/>
<path d="M570.2 93.01 L573.2 93.01 L571.7 90.39 Z" fill="#4a6598"/>
<path d="M562.8 93.01 L565.8 93.01 L564.3 90.39 Z" fill="#4a6598"/>
<path d="M534.8 90.01 L537.8 90.01 L536.3 87.39 Z" fill="#e9714b"/>
<path d="M550.5 90.01 L553.5 90.01 L552 87.39 Z" fill="#4a6598"/>
<path d="M546.2 93.91 L549.2 93.91 L547.7 91.29 Z" fill="#4a6598"/>
<path d="M526 93.01 L529 93.01 L527.5 90.39 Z" fill="#4a6598"/>
<path d="M522.5 92.11 L525.5 92.11 L524 89.49 Z" fill="#4a6598"/>
<path d="M519 93.01 L522 93.01 L520.5 90.39 Z" fill="#4a6598"/>
<path d="M517.3 79.51 L520.3 79.51 L518.8 76.89 Z" fill="#4a6598"/>
<path d="M441.5 98.01 L444.5 98.01 L443 95.39 Z" fill="#4a6598"/>
<path d="M443.8 98.71 L446.8 98.71 L445.3 96.09 Z" fill="#e9714b"/>
<path d="M431.9 104.41 L434.9 104.41 L433.4 101.79 Z" fill="#e9714b"/>
<path d="M429.8 119.01 L432.8 119.01 L431.3 116.39 Z" fill="#e9714b"/>
<path d="M438 115.01 L441 115.01 L439.5 112.39 Z" fill="#4a6598"/>
<path d="M441.5 113.71 L444.5 113.71 L443 111.09 Z" fill="#4a6598"/>
<path d="M444.5 115.01 L447.5 115.01 L446 112.39 Z" fill="#4a6598"/>
<path d="M443.3 128.41 L446.3 128.41 L444.8 125.79 Z" fill="#4a6598"/>
<path d="M381.1 133.31 L384.1 133.31 L382.6 130.69 Z" fill="#4a6598"/>
<path d="M412.6 133 L415.6 133 L414.1 130.39 Z" fill="#4a6598"/>
<path d="M380.2 153.5 L383.2 153.5 L381.7 150.89 Z" fill="#4a6598"/>
<path d="M389.5 160 L392.5 160 L391 157.39 Z" fill="#4a6598"/>
<path d="M400 150 L403 150 L401.5 147.39 Z" fill="#4a6598"/>
<path d="M403.5 146 L406.5 146 L405 143.39 Z" fill="#4a6598"/>
<path d="M413.5 143.91 L416.5 143.91 L415 141.29 Z" fill="#4a6598"/>
<path d="M414.3 145.61 L417.3 145.61 L415.8 143 Z" fill="#4a6598"/>
<path d="M414.7 148.81 L417.7 148.81 L416.2 146.19 Z" fill="#4a6598"/>
<path d="M423.1 146 L426.1 146 L424.6 143.39 Z" fill="#4a6598"/>
<path d="M429.2 145.31 L432.2 145.31 L430.7 142.69 Z" fill="#4a6598"/>
<path d="M428 151.21 L431 151.21 L429.5 148.59 Z" fill="#4a6598"/>
<path d="M426.6 151.71 L429.6 151.71 L428.1 149.09 Z" fill="#4a6598"/>
<path d="M423.1 156.5 L426.1 156.5 L424.6 153.89 Z" fill="#4a6598"/>
<path d="M408.2 158.71 L411.2 158.71 L409.7 156.09 Z" fill="#4a6598"/>
<path d="M437.1 154 L440.1 154 L438.6 151.39 Z" fill="#4a6598"/>
<path d="M436.8 155.21 L439.8 155.21 L438.3 152.59 Z" fill="#4a6598"/>
<path d="M446.8 152.61 L449.8 152.61 L448.3 150 Z" fill="#4a6598"/>
<path d="M439.7 164 L442.7 164 L441.2 161.39 Z" fill="#4a6598"/>
<path d="M409.4 167 L412.4 167 L410.9 164.39 Z" fill="#4a6598"/>
<path d="M400.7 168.71 L403.7 168.71 L402.2 166.09 Z" fill="#4a6598"/>
<path d="M404.7 171.5 L407.7 171.5 L406.2 168.89 Z" fill="#4a6598"/>
<path d="M388.9 172.21 L391.9 172.21 L390.4 169.59 Z" fill="#4a6598"/>
<path d="M398.9 176.81 L401.9 176.81 L400.4 174.19 Z" fill="#4a6598"/>
<path d="M394.7 176.81 L397.7 176.81 L396.2 174.19 Z" fill="#4a6598"/>
<path d="M406.5 178 L409.5 178 L408 175.39 Z" fill="#4a6598"/>
<path d="M424 173.31 L427 173.31 L425.5 170.69 Z" fill="#4a6598"/>
<path d="M424.5 177.11 L427.5 177.11 L426 174.5 Z" fill="#4a6598"/>
<path d="M430.5 172.81 L433.5 172.81 L432 170.19 Z" fill="#4a6598"/>
<path d="M438.5 170.11 L441.5 170.11 L440 167.5 Z" fill="#4a6598"/>
<path d="M446.8 168.41 L449.8 168.41 L448.3 165.79 Z" fill="#4a6598"/>
<path d="M388.9 180.61 L391.9 180.61 L390.4 178 Z" fill="#4a6598"/>
<path d="M395.6 178.71 L398.6 178.71 L397.1 176.09 Z" fill="#4a6598"/>
<path d="M424.9 178.31 L427.9 178.31 L426.4 175.69 Z" fill="#4a6598"/>
<path d="M375.5 188.31 L378.5 188.31 L377 185.69 Z" fill="#4a6598"/>
<path d="M378.4 186.71 L381.4 186.71 L379.9 184.09 Z" fill="#4a6598"/>
<path d="M379.3 187.41 L382.3 187.41 L380.8 184.79 Z" fill="#e9714b"/>
<path d="M380.7 184.31 L383.7 184.31 L382.2 181.69 Z" fill="#4a6598"/>
<path d="M395.9 184.41 L398.9 184.41 L397.4 181.79 Z" fill="#e9714b"/>
<path d="M394.2 189.71 L397.2 189.71 L395.7 187.09 Z" fill="#4a6598"/>
<path d="M371.9 199.31 L374.9 199.31 L373.4 196.69 Z" fill="#4a6598"/>
<path d="M492.5 97.41 L495.5 97.41 L494 94.79 Z" fill="#4a6598"/>
<path d="M491.9 100.91 L494.9 100.91 L493.4 98.29 Z" fill="#4a6598"/>
<path d="M481.9 102.21 L484.9 102.21 L483.4 99.59 Z" fill="#e9714b"/>
<path d="M456.9 103.21 L459.9 103.21 L458.4 100.59 Z" fill="#e9714b"/>
<path d="M451.6 111.41 L454.6 111.41 L453.1 108.79 Z" fill="#e9714b"/>
<path d="M464.8 113.21 L467.8 113.21 L466.3 110.59 Z" fill="#4a6598"/>
<path d="M456.4 117.91 L459.4 117.91 L457.9 115.29 Z" fill="#e9714b"/>
<path d="M482.6 115.01 L485.6 115.01 L484.1 112.39 Z" fill="#e9714b"/>
<path d="M487.2 114.11 L490.2 114.11 L488.7 111.49 Z" fill="#4a6598"/>
<path d="M494.6 120.21 L497.6 120.21 L496.1 117.59 Z" fill="#4a6598"/>
<path d="M501.6 117.91 L504.6 117.91 L503.1 115.29 Z" fill="#4a6598"/>
<path d="M503.7 121.41 L506.7 121.41 L505.2 118.79 Z" fill="#e9714b"/>
<path d="M504.7 123.71 L507.7 123.71 L506.2 121.09 Z" fill="#4a6598"/>
<path d="M513.8 117.91 L516.8 117.91 L515.3 115.29 Z" fill="#4a6598"/>
<path d="M515.2 123.71 L518.2 123.71 L516.7 121.09 Z" fill="#4a6598"/>
<path d="M518.7 122.51 L521.7 122.51 L520.2 119.89 Z" fill="#4a6598"/>
<path d="M461.6 124.21 L464.6 124.21 L463.1 121.59 Z" fill="#4a6598"/>
<path d="M467.9 128.1 L470.9 128.1 L469.4 125.49 Z" fill="#4a6598"/>
<path d="M470 128.1 L473 128.1 L471.5 125.49 Z" fill="#4a6598"/>
<path d="M472.7 129 L475.7 129 L474.2 126.39 Z" fill="#4a6598"/>
<path d="M480.9 131.31 L483.9 131.31 L482.4 128.69 Z" fill="#4a6598"/>
<path d="M486.7 134.21 L489.7 134.21 L488.2 131.59 Z" fill="#4a6598"/>
<path d="M490.7 134.71 L493.7 134.71 L492.2 132.09 Z" fill="#e9714b"/>
<path d="M513 130.71 L516 130.71 L514.5 128.09 Z" fill="#e9714b"/>
<path d="M455.7 137.21 L458.7 137.21 L457.2 134.59 Z" fill="#4a6598"/>
<path d="M527 139.5 L530 139.5 L528.5 136.89 Z" fill="#4a6598"/>
<path d="M463.9 143.5 L466.9 143.5 L465.4 140.89 Z" fill="#4a6598"/>
<path d="M479.7 143.31 L482.7 143.31 L481.2 140.69 Z" fill="#4a6598"/>
<path d="M450.8 145.31 L453.8 145.31 L452.3 142.69 Z" fill="#e9714b"/>
<path d="M459.9 148.21 L462.9 148.21 L461.4 145.59 Z" fill="#4a6598"/>
<path d="M476.7 149.5 L479.7 149.5 L478.2 146.89 Z" fill="#e9714b"/>
<path d="M481.9 153.5 L484.9 153.5 L483.4 150.89 Z" fill="#4a6598"/>
<path d="M498.4 143.91 L501.4 143.91 L499.9 141.29 Z" fill="#4a6598"/>
<path d="M494.6 145.61 L497.6 145.61 L496.1 143 Z" fill="#e9714b"/>
<path d="M500.7 147 L503.7 147 L502.2 144.39 Z" fill="#4a6598"/>
<path d="M505.1 143 L508.1 143 L506.6 140.39 Z" fill="#4a6598"/>
<path d="M515.2 146.5 L518.2 146.5 L516.7 143.89 Z" fill="#4a6598"/>
<path d="M449.4 156.11 L452.4 156.11 L450.9 153.5 Z" fill="#4a6598"/>
<path d="M452.9 157 L455.9 157 L454.4 154.39 Z" fill="#e9714b"/>
<path d="M459.2 160 L462.2 160 L460.7 157.39 Z" fill="#4a6598"/>
<path d="M502.4 158.71 L505.4 158.71 L503.9 156.09 Z" fill="#e9714b"/>
<path d="M510.3 157 L513.3 157 L511.8 154.39 Z" fill="#4a6598"/>
<path d="M500.2 163.5 L503.2 163.5 L501.7 160.89 Z" fill="#4a6598"/>
<path d="M538 168.41 L541 168.41 L539.5 165.79 Z" fill="#4a6598"/>
<path d="M470.4 180.31 L473.4 180.31 L471.9 177.69 Z" fill="#4a6598"/>
<path d="M533.1 115.51 L536.1 115.51 L534.6 112.89 Z" fill="#4a6598"/>
<path d="M540.1 122.81 L543.1 122.81 L541.6 120.19 Z" fill="#e9714b"/>
<path d="M548 120.71 L551 120.71 L549.5 118.09 Z" fill="#e9714b"/>
<path d="M548.9 124.61 L551.9 124.61 L550.4 121.99 Z" fill="#e9714b"/>
<path d="M538.4 127.21 L541.4 127.21 L539.9 124.59 Z" fill="#e9714b"/>
<path d="M541.9 127.21 L544.9 127.21 L543.4 124.59 Z" fill="#4a6598"/>
<path d="M552.7 127.21 L555.7 127.21 L554.2 124.59 Z" fill="#4a6598"/>
<path d="M554.1 132.5 L557.1 132.5 L555.6 129.89 Z" fill="#4a6598"/>
<path d="M552.7 136 L555.7 136 L554.2 133.39 Z" fill="#4a6598"/>
<path d="M546.8 137.21 L549.8 137.21 L548.3 134.59 Z" fill="#e9714b"/>
<path d="M545.7 144.21 L548.7 144.21 L547.2 141.59 Z" fill="#4a6598"/>
<path d="M555 140.41 L558 140.41 L556.5 137.79 Z" fill="#4a6598"/>
<path d="M554.1 143.5 L557.1 143.5 L555.6 140.89 Z" fill="#4a6598"/>
<path d="M553.8 147.41 L556.8 147.41 L555.3 144.79 Z" fill="#4a6598"/>
<path d="M557.6 151.71 L560.6 151.71 L559.1 149.09 Z" fill="#4a6598"/>
<path d="M548 158.71 L551 158.71 L549.5 156.09 Z" fill="#e9714b"/>
<path d="M557.6 160.5 L560.6 160.5 L559.1 157.89 Z" fill="#e9714b"/>
<path d="M518.2 93.41 L521.2 93.41 L519.7 90.79 Z" fill="#4a6598"/>
<path d="M522.2 92.71 L525.2 92.71 L523.7 90.09 Z" fill="#4a6598"/>
<path d="M529.2 93.91 L532.2 93.91 L530.7 91.29 Z" fill="#4a6598"/>
<path d="M543.3 94.81 L546.3 94.81 L544.8 92.19 Z" fill="#4a6598"/>
<path d="M553.3 97.41 L556.3 97.41 L554.8 94.79 Z" fill="#e9714b"/>
<path d="M535.7 99.21 L538.7 99.21 L537.2 96.59 Z" fill="#e9714b"/>
<path d="M515.9 100.91 L518.9 100.91 L517.4 98.29 Z" fill="#4a6598"/>
<path d="M522.6 103.21 L525.6 103.21 L524.1 100.59 Z" fill="#4a6598"/>
<path d="M526.1 102.71 L529.1 102.71 L527.6 100.09 Z" fill="#4a6598"/>
<path d="M527.5 107.11 L530.5 107.11 L529 104.49 Z" fill="#e9714b"/>
<path d="M519.1 106.21 L522.1 106.21 L520.6 103.59 Z" fill="#e9714b"/>
<path d="M524 110.21 L527 110.21 L525.5 107.59 Z" fill="#4a6598"/>
<path d="M546.8 108.81 L549.8 108.81 L548.3 106.19 Z" fill="#4a6598"/>
<path d="M545.7 112.01 L548.7 112.01 L547.2 109.39 Z" fill="#4a6598"/>
<path d="M552 107.91 L555 107.91 L553.5 105.29 Z" fill="#4a6598"/>
<path d="M507.7 106.71 L510.7 106.71 L509.2 104.09 Z" fill="#e9714b"/>
<path d="M559.9 97.41 L562.9 97.41 L561.4 94.79 Z" fill="#e9714b"/>
<path d="M560.4 110.61 L563.4 110.61 L561.9 107.99 Z" fill="#e9714b"/>
<path d="M561.1 114.11 L564.1 114.11 L562.6 111.49 Z" fill="#e9714b"/>
<path d="M558.1 115.51 L561.1 115.51 L559.6 112.89 Z" fill="#4a6598"/>
<path d="M584.4 109.71 L587.4 109.71 L585.9 107.09 Z" fill="#e9714b"/>
<path d="M592.3 109.71 L595.3 109.71 L593.8 107.09 Z" fill="#e9714b"/>
<path d="M572.2 112.01 L575.2 112.01 L573.7 109.39 Z" fill="#4a6598"/>
<path d="M569.9 115.81 L572.9 115.81 L571.4 113.19 Z" fill="#4a6598"/>
<path d="M575.1 114.41 L578.1 114.41 L576.6 111.79 Z" fill="#e9714b"/>
<path d="M576.9 115.51 L579.9 115.51 L578.4 112.89 Z" fill="#e9714b"/>
<path d="M590.2 120.21 L593.2 120.21 L591.7 117.59 Z" fill="#e9714b"/>
<path d="M599 123.71 L602 123.71 L600.5 121.09 Z" fill="#e9714b"/>
<path d="M569.5 124.21 L572.5 124.21 L571 121.59 Z" fill="#4a6598"/>
<path d="M560.8 124.21 L563.8 124.21 L562.3 121.59 Z" fill="#4a6598"/>
<path d="M549.4 124.21 L552.4 124.21 L550.9 121.59 Z" fill="#e9714b"/>
<path d="M577.9 127.21 L580.9 127.21 L579.4 124.59 Z" fill="#4a6598"/>
<path d="M579.7 127.71 L582.7 127.71 L581.2 125.09 Z" fill="#4a6598"/>
<path d="M587.4 127.21 L590.4 127.21 L588.9 124.59 Z" fill="#4a6598"/>
<path d="M583.2 130.21 L586.2 130.21 L584.7 127.59 Z" fill="#4a6598"/>
<path d="M591.9 131.61 L594.9 131.61 L593.4 129 Z" fill="#4a6598"/>
<path d="M603.2 131.91 L606.2 131.91 L604.7 129.29 Z" fill="#e9714b"/>
<path d="M563.4 129.5 L566.4 129.5 L564.9 126.89 Z" fill="#e9714b"/>
<path d="M552.4 127.21 L555.4 127.21 L553.9 124.59 Z" fill="#4a6598"/>
<path d="M571.6 138.61 L574.6 138.61 L573.1 136 Z" fill="#4a6598"/>
<path d="M577.9 139 L580.9 139 L579.4 136.39 Z" fill="#4a6598"/>
<path d="M596.2 139 L599.2 139 L597.7 136.39 Z" fill="#e9714b"/>
<path d="M556.4 140.71 L559.4 140.71 L557.9 138.09 Z" fill="#4a6598"/>
<path d="M559 141.81 L562 141.81 L560.5 139.19 Z" fill="#4a6598"/>
<path d="M554.6 143.5 L557.6 143.5 L556.1 140.89 Z" fill="#4a6598"/>
<path d="M567.4 143 L570.4 143 L568.9 140.39 Z" fill="#4a6598"/>
<path d="M581.8 142.5 L584.8 142.5 L583.3 139.89 Z" fill="#4a6598"/>
<path d="M584.4 143.91 L587.4 143.91 L585.9 141.29 Z" fill="#4a6598"/>
<path d="M585.3 144.71 L588.3 144.71 L586.8 142.09 Z" fill="#4a6598"/>
<path d="M598.4 143.91 L601.4 143.91 L599.9 141.29 Z" fill="#4a6598"/>
<path d="M600.7 147 L603.7 147 L602.2 144.39 Z" fill="#e9714b"/>
<path d="M594.9 146.5 L597.9 146.5 L596.4 143.89 Z" fill="#4a6598"/>
<path d="M570.9 148.21 L573.9 148.21 L572.4 145.59 Z" fill="#4a6598"/>
<path d="M575.1 147.41 L578.1 147.41 L576.6 144.79 Z" fill="#4a6598"/>
<path d="M589.7 147.41 L592.7 147.41 L591.2 144.79 Z" fill="#4a6598"/>
<path d="M558.1 152.31 L561.1 152.31 L559.6 149.69 Z" fill="#4a6598"/>
<path d="M590.9 152.31 L593.9 152.31 L592.4 149.69 Z" fill="#4a6598"/>
<path d="M594.1 151.71 L597.1 151.71 L595.6 149.09 Z" fill="#4a6598"/>
<path d="M602.8 152.61 L605.8 152.61 L604.3 150 Z" fill="#4a6598"/>
<path d="M577.9 154 L580.9 154 L579.4 151.39 Z" fill="#4a6598"/>
<path d="M581.4 156.11 L584.4 156.11 L582.9 153.5 Z" fill="#4a6598"/>
<path d="M610.7 154.71 L613.7 154.71 L612.2 152.09 Z" fill="#4a6598"/>
<path d="M599.3 157 L602.3 157 L600.8 154.39 Z" fill="#4a6598"/>
<path d="M599.3 158.71 L602.3 158.71 L600.8 156.09 Z" fill="#4a6598"/>
<path d="M558.1 160 L561.1 160 L559.6 157.39 Z" fill="#e9714b"/>
<path d="M562.2 159.61 L565.2 159.61 L563.7 157 Z" fill="#4a6598"/>
<path d="M562.5 161 L565.5 161 L564 158.39 Z" fill="#4a6598"/>
<path d="M576.2 159.61 L579.2 159.61 L577.7 157 Z" fill="#e9714b"/>
<path d="M574.8 161.41 L577.8 161.41 L576.3 158.79 Z" fill="#4a6598"/>
<path d="M568.1 163.11 L571.1 163.11 L569.6 160.5 Z" fill="#4a6598"/>
<path d="M569.9 165.21 L572.9 165.21 L571.4 162.59 Z" fill="#4a6598"/>
<path d="M573.9 163.11 L576.9 163.11 L575.4 160.5 Z" fill="#4a6598"/>
<path d="M575.7 167 L578.7 167 L577.2 164.39 Z" fill="#4a6598"/>
<path d="M576.9 168 L579.9 168 L578.4 165.39 Z" fill="#4a6598"/>
<path d="M580.4 166.31 L583.4 166.31 L581.9 163.69 Z" fill="#4a6598"/>
<path d="M582.7 164.91 L585.7 164.91 L584.2 162.29 Z" fill="#4a6598"/>
<path d="M580.4 169.81 L583.4 169.81 L581.9 167.19 Z" fill="#4a6598"/>
<path d="M594.9 164 L597.9 164 L596.4 161.39 Z" fill="#4a6598"/>
<path d="M603.2 162.81 L606.2 162.81 L604.7 160.19 Z" fill="#4a6598"/>
<path d="M608.1 165.21 L611.1 165.21 L609.6 162.59 Z" fill="#4a6598"/>
<path d="M610.7 168 L613.7 168 L612.2 165.39 Z" fill="#e9714b"/>
<path d="M589.1 172.21 L592.1 172.21 L590.6 169.59 Z" fill="#4a6598"/>
<path d="M589.1 175.41 L592.1 175.41 L590.6 172.79 Z" fill="#4a6598"/>
<path d="M605.4 172.21 L608.4 172.21 L606.9 169.59 Z" fill="#4a6598"/>
<path d="M606.7 173.31 L609.7 173.31 L608.2 170.69 Z" fill="#4a6598"/>
<path d="M604.2 172.81 L607.2 172.81 L605.7 170.19 Z" fill="#4a6598"/>
<path d="M610.7 172.21 L613.7 172.21 L612.2 169.59 Z" fill="#4a6598"/>
<path d="M572.2 177.5 L575.2 177.5 L573.7 174.89 Z" fill="#e9714b"/>
<path d="M491.6 196.31 L494.6 196.31 L493.1 193.69 Z" fill="#4a6598"/>
<path d="M539.2 194 L542.2 194 L540.7 191.39 Z" fill="#4a6598"/>
<path d="M521.7 206 L524.7 206 L523.2 203.39 Z" fill="#e9714b"/>
<path d="M603.5 162.81 L606.5 162.81 L605 160.19 Z" fill="#4a6598"/>
<path d="M604.9 172.41 L607.9 172.41 L606.4 169.79 Z" fill="#4a6598"/>
<path d="M606.4 173.61 L609.4 173.61 L607.9 171 Z" fill="#4a6598"/>
<path d="M610.8 172.41 L613.8 172.41 L612.3 169.79 Z" fill="#4a6598"/>
<path d="M568.4 162.81 L571.4 162.81 L569.9 160.19 Z" fill="#4a6598"/>
<path d="M569.9 164.81 L572.9 164.81 L571.4 162.19 Z" fill="#4a6598"/>
<path d="M575.7 166.61 L578.7 166.61 L577.2 164 Z" fill="#4a6598"/>
<path d="M580.1 168.61 L583.1 168.61 L581.6 166 Z" fill="#4a6598"/>
<path d="M582.1 164.81 L585.1 164.81 L583.6 162.19 Z" fill="#4a6598"/>
<path d="M533.5 52.01 L536.5 52.01 L535 49.4 Z" fill="#e9714b"/>
<path d="M533.5 68.51 L536.5 68.51 L535 65.89 Z" fill="#e9714b"/>
<path d="M497 74.41 L500 74.41 L498.5 71.79 Z" fill="#4a6598"/>
<path d="M527.2 82.01 L530.2 82.01 L528.7 79.39 Z" fill="#e9714b"/>
<path d="M525.7 92.51 L528.7 92.51 L527.2 89.89 Z" fill="#4a6598"/>
<path d="M524.3 93.91 L527.3 93.91 L525.8 91.29 Z" fill="#4a6598"/>
<path d="M541.5 105.01 L544.5 105.01 L543 102.39 Z" fill="#4a6598"/>
<path d="M548.5 103.61 L551.5 103.61 L550 100.99 Z" fill="#4a6598"/>
<path d="M552.9 107.51 L555.9 107.51 L554.4 104.89 Z" fill="#4a6598"/>
<path d="M562.2 93.91 L565.2 93.91 L563.7 91.29 Z" fill="#e9714b"/>
<path d="M560.5 109.41 L563.5 109.41 L562 106.79 Z" fill="#e9714b"/>
<path d="M535.7 83.41 L538.7 83.41 L537.2 80.79 Z" fill="#4a6598"/>
<path d="M550.3 82.71 L553.3 82.71 L551.8 80.09 Z" fill="#4a6598"/>
<path d="M386.8 88.51 L389.8 88.51 L388.3 85.89 Z" fill="#4a6598"/>
<defs><marker id="ah" viewBox="0 0 6 6" refX="5" refY="3" markerWidth="2.8" markerHeight="2.8" orient="auto" markerUnits="userSpaceOnUse"><path d="M0 0.6 L6 3 L0 5.4 Z" fill="#222"/></marker></defs>
<line x1="512.6" y1="105.6" x2="504.7" y2="32" stroke="#2a2a2a" stroke-width="0.5" marker-end="url(#ah)"/>
<line x1="512.6" y1="105.6" x2="509.7" y2="78.5" stroke="#2a2a2a" stroke-width="0.5" marker-end="url(#ah)"/>
<line x1="512.6" y1="105.6" x2="515.5" y2="86.5" stroke="#2a2a2a" stroke-width="0.5" marker-end="url(#ah)"/>
<line x1="512.6" y1="105.6" x2="514.5" y2="78.6" stroke="#2a2a2a" stroke-width="0.5" marker-end="url(#ah)"/>
<line x1="512.6" y1="105.6" x2="524.4" y2="78.9" stroke="#2a2a2a" stroke-width="0.5" marker-end="url(#ah)"/>
<line x1="512.6" y1="105.6" x2="520.3" y2="84.4" stroke="#2a2a2a" stroke-width="0.5" marker-end="url(#ah)"/>
<line x1="512.6" y1="105.6" x2="538.5" y2="101.2" stroke="#2a2a2a" stroke-width="0.5" marker-end="url(#ah)"/>
<line x1="512.6" y1="105.6" x2="504.5" y2="122.8" stroke="#2a2a2a" stroke-width="0.5" marker-end="url(#ah)"/>
<line x1="512.6" y1="105.6" x2="511" y2="88" stroke="#2a2a2a" stroke-width="0.5" marker-end="url(#ah)"/>
<text x="485" y="29.9" fill="#333" textLength="36.2" lengthAdjust="spacingAndGlyphs" style="font-size:8px;font-style:italic">Escherichia</text>
<text x="454.8" y="79.6" fill="#333" textLength="54.3" lengthAdjust="spacingAndGlyphs" style="font-size:8px;font-style:italic">Subdoligranulum</text>
<text x="471.9" y="85" fill="#333" textLength="42.7" lengthAdjust="spacingAndGlyphs" style="font-size:8px;font-style:italic">Coprobacillus</text>
<text x="514.6" y="74.1" fill="#333" textLength="25.2" lengthAdjust="spacingAndGlyphs" style="font-size:8px;font-style:italic">Alistipes</text>
<text x="526.2" y="79.6" fill="#333" textLength="45.3" lengthAdjust="spacingAndGlyphs" style="font-size:8px;font-style:italic">Anaerotruncus</text>
<text x="522.3" y="85.7" fill="#333" textLength="35" lengthAdjust="spacingAndGlyphs" style="font-size:8px;font-style:italic">Clostridium</text>
<text x="542" y="100.6" fill="#333" textLength="50.3" lengthAdjust="spacingAndGlyphs" style="font-size:8px;font-style:italic">Parabacteroides</text>
<text x="477.4" y="128.4" fill="#333" textLength="52.5" lengthAdjust="spacingAndGlyphs" style="font-size:8px;font-style:italic">Faecalibacterium</text>
<path d="M567.2 13.78 L570.6 13.78 L568.9 10.82 Z" fill="#e8643a"/>
<path d="M567.2 24.38 L570.6 24.38 L568.9 21.42 Z" fill="#3c5a92"/>
<text x="574.3" y="15" style="font-size:7.8px">Advanced age</text>
<text x="574.3" y="25.3" style="font-size:7.8px">Offspring</text>
</svg>
</body></html>
